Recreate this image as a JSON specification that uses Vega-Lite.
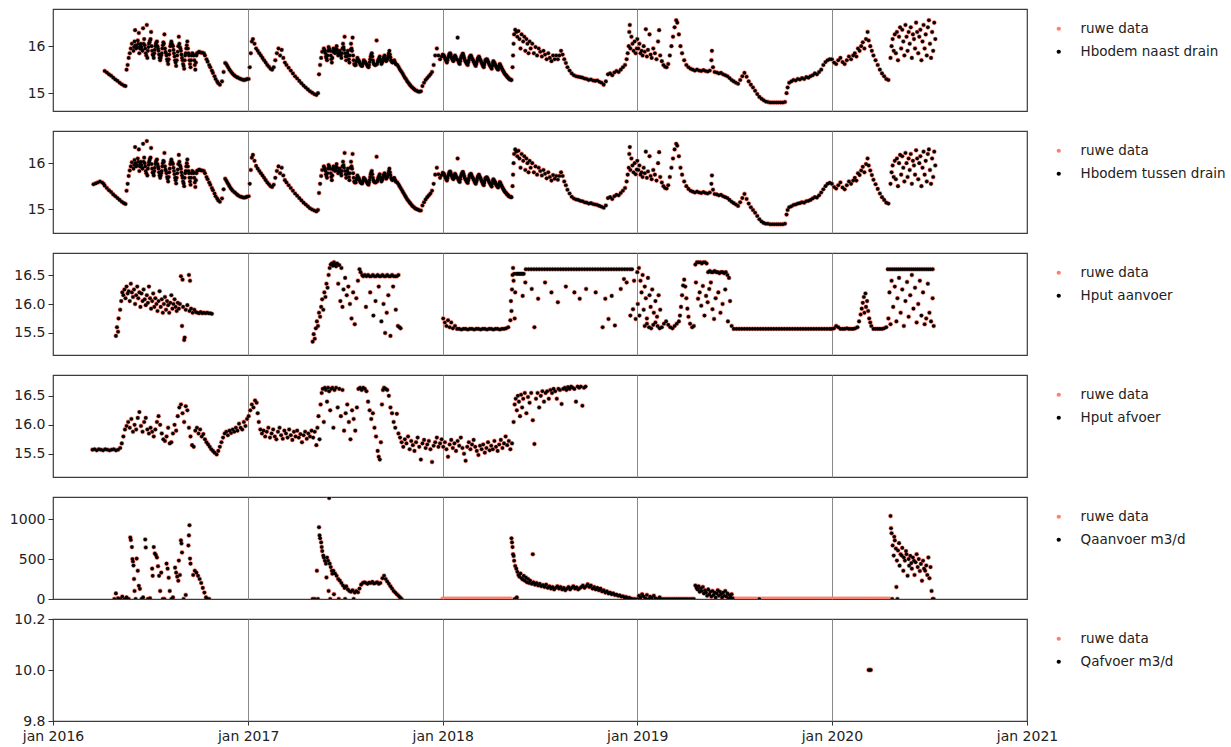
{
  "$schema": "https://vega.github.io/schema/vega-lite/v6.json",
  "background": "white",
  "padding": {"left": 8, "top": 8, "right": 0, "bottom": 5},
  "spacing": 20,
  "bounds": "flush",
  "config": {
    "font": "DejaVu Sans",
    "view": {"stroke": "#3c3c3c", "strokeWidth": 1.2},
    "axis": {"labelFont": "DejaVu Sans", "labelFontSize": 14, "labelColor": "#222222", "tickColor": "#333333", "tickSize": 5, "tickWidth": 1, "labelPadding": 3, "domain": false, "grid": false, "title": null},
    "axisX": {"gridColor": "#888888", "gridWidth": 1, "gridOpacity": 1, "labelFlush": false, "labelOverlap": false},
    "legend": {"orient": "right", "offset": 12, "padding": 13, "labelFont": "DejaVu Sans", "labelFontSize": 13.5, "labelColor": "#222222", "labelOffset": 15, "labelLimit": 200, "rowPadding": 8, "symbolType": "circle", "symbolSize": 18, "symbolStrokeWidth": 0}
  },
  "datasets": {
    "bodem": [
      {"d":"2016-03-17","b":15.54},{"d":"2016-03-21","b":15.56},{"d":"2016-03-25","b":15.58},{"d":"2016-03-29","b":15.60},{"d":"2016-04-02","b":15.58},{"d":"2016-04-05","b":15.55},
      {"d":"2016-04-07","a":15.47,"b":15.51},{"d":"2016-04-11","a":15.44,"b":15.46},{"d":"2016-04-15","a":15.40,"b":15.41},{"d":"2016-04-19","a":15.37,"b":15.37},{"d":"2016-04-23","a":15.33,"b":15.32},{"d":"2016-04-27","a":15.29,"b":15.28},{"d":"2016-05-01","a":15.26,"b":15.24},{"d":"2016-05-05","a":15.22,"b":15.20},{"d":"2016-05-09","a":15.19,"b":15.16},{"d":"2016-05-13","a":15.16,"b":15.13},{"d":"2016-05-16","a":15.15,"b":15.11},
      {"d":"2016-05-18","a":15.50,"b":15.40},{"d":"2016-05-20","a":15.60,"b":15.55},{"d":"2016-05-22","a":15.75,"b":15.72},{"d":"2016-05-24","a":15.85,"b":15.84},{"d":"2016-05-26","a":15.95,"b":15.93},{"d":"2016-05-28","a":16.05,"b":16.02},{"d":"2016-05-31","a":15.90,"b":15.88},{"d":"2016-06-02","a":16.10,"b":16.07},{"d":"2016-06-03","a":16.34,"b":16.35},{"d":"2016-06-05","a":15.95,"b":15.93},{"d":"2016-06-08","a":16.12,"b":16.10},{"d":"2016-06-10","a":16.28,"b":16.30},{"d":"2016-06-11","a":15.85,"b":15.83},{"d":"2016-06-14","a":16.05,"b":16.03},{"d":"2016-06-17","a":15.90,"b":15.88},{"d":"2016-06-18","a":16.38,"b":16.42},{"d":"2016-06-20","a":16.15,"b":16.12},{"d":"2016-06-23","a":15.85,"b":15.83},{"d":"2016-06-25","a":16.45,"b":16.48},{"d":"2016-06-26","a":15.75,"b":15.73},{"d":"2016-06-29","a":16.05,"b":16.02},
      {"d":"2016-07-02","a":16.15,"b":16.12},{"d":"2016-07-03","a":16.30,"b":16.33},{"d":"2016-07-05","a":15.90,"b":15.88},{"d":"2016-07-08","a":15.75,"b":15.73},{"d":"2016-07-11","a":16.00,"b":15.98},{"d":"2016-07-14","a":16.10,"b":16.08},{"d":"2016-07-17","a":15.90,"b":15.88},{"d":"2016-07-20","a":15.70,"b":15.68},{"d":"2016-07-23","a":15.85,"b":15.83},{"d":"2016-07-26","a":16.08,"b":16.05},{"d":"2016-07-28","a":16.25,"b":16.22},{"d":"2016-07-29","a":15.95,"b":15.93},{"d":"2016-08-01","a":15.80,"b":15.78},{"d":"2016-08-04","a":15.62,"b":15.60},{"d":"2016-08-07","a":15.90,"b":15.88},{"d":"2016-08-10","a":16.10,"b":16.08},{"d":"2016-08-13","a":16.00,"b":15.98},{"d":"2016-08-16","a":15.78,"b":15.76},{"d":"2016-08-19","a":15.58,"b":15.56},{"d":"2016-08-22","a":15.88,"b":15.86},{"d":"2016-08-24","a":16.20,"b":16.18},{"d":"2016-08-25","a":16.05,"b":16.03},{"d":"2016-08-28","a":15.90,"b":15.88},{"d":"2016-08-31","a":15.70,"b":15.68},{"d":"2016-09-03","a":15.52,"b":15.50},{"d":"2016-09-06","a":15.85,"b":15.83},{"d":"2016-09-09","a":16.10,"b":16.08},{"d":"2016-09-12","a":15.80,"b":15.78},{"d":"2016-09-15","a":15.55,"b":15.53},{"d":"2016-09-18","a":15.85,"b":15.83},{"d":"2016-09-21","a":15.80,"b":15.78},{"d":"2016-09-24","a":15.50,"b":15.48},{"d":"2016-09-27","a":15.85,"b":15.83},{"d":"2016-10-01","a":15.88,"b":15.86},{"d":"2016-10-05","a":15.86,"b":15.84},{"d":"2016-10-10","a":15.85,"b":15.83},{"d":"2016-10-15","a":15.72,"b":15.70},{"d":"2016-10-20","a":15.60,"b":15.58},{"d":"2016-10-25","a":15.48,"b":15.46},{"d":"2016-10-30","a":15.36,"b":15.34},{"d":"2016-11-04","a":15.25,"b":15.23},{"d":"2016-11-09","a":15.18,"b":15.16},{"d":"2016-11-13","a":15.25,"b":15.23},{"d":"2016-11-16","a":15.45,"b":15.43},{"d":"2016-11-19","a":15.64,"b":15.66},{"d":"2016-11-23","a":15.58,"b":15.58},{"d":"2016-11-27","a":15.50,"b":15.50},{"d":"2016-12-01","a":15.44,"b":15.43},{"d":"2016-12-06","a":15.38,"b":15.37},{"d":"2016-12-11","a":15.34,"b":15.32},{"d":"2016-12-16","a":15.31,"b":15.28},{"d":"2016-12-21","a":15.29,"b":15.26},{"d":"2016-12-26","a":15.28,"b":15.25},{"d":"2016-12-30","a":15.30,"b":15.27},
      {"d":"2016-06-01","a":15.98,"b":15.96},{"d":"2016-06-04","a":16.02,"b":16.00},{"d":"2016-06-07","a":15.98,"b":15.96},{"d":"2016-06-09","a":16.05,"b":16.03},{"d":"2016-06-12","a":15.95,"b":15.93},{"d":"2016-06-13","a":16.00,"b":15.98},{"d":"2016-06-15","a":15.98,"b":15.96},{"d":"2016-06-16","a":15.92,"b":15.90},{"d":"2016-06-19","a":16.05,"b":16.03},{"d":"2016-06-21","a":16.02,"b":16.00},{"d":"2016-06-22","a":15.95,"b":15.93},{"d":"2016-06-24","a":15.80,"b":15.78},{"d":"2016-06-27","a":15.90,"b":15.88},{"d":"2016-06-28","a":15.98,"b":15.96},{"d":"2016-06-30","a":16.08,"b":16.06},{"d":"2016-07-01","a":16.12,"b":16.10},{"d":"2016-07-04","a":16.00,"b":15.98},{"d":"2016-07-06","a":15.82,"b":15.80},{"d":"2016-07-07","a":15.80,"b":15.78},{"d":"2016-07-09","a":15.85,"b":15.83},{"d":"2016-07-10","a":15.92,"b":15.90},{"d":"2016-07-12","a":16.05,"b":16.03},{"d":"2016-07-13","a":16.08,"b":16.06},{"d":"2016-07-15","a":16.00,"b":15.98},{"d":"2016-07-16","a":15.95,"b":15.93},{"d":"2016-07-18","a":15.82,"b":15.80},{"d":"2016-07-19","a":15.75,"b":15.73},{"d":"2016-07-21","a":15.75,"b":15.73},{"d":"2016-07-22","a":15.80,"b":15.78},{"d":"2016-07-24","a":15.95,"b":15.93},{"d":"2016-07-25","a":16.02,"b":16.00},{"d":"2016-07-27","a":16.05,"b":16.03},{"d":"2016-07-30","a":15.88,"b":15.86},{"d":"2016-07-31","a":15.85,"b":15.83},{"d":"2016-08-02","a":15.72,"b":15.70},{"d":"2016-08-03","a":15.68,"b":15.66},{"d":"2016-08-05","a":15.72,"b":15.70},{"d":"2016-08-06","a":15.82,"b":15.80},{"d":"2016-08-08","a":16.00,"b":15.98},{"d":"2016-08-09","a":16.05,"b":16.03},{"d":"2016-08-11","a":16.05,"b":16.03},{"d":"2016-08-12","a":16.02,"b":16.00},{"d":"2016-08-14","a":15.92,"b":15.90},{"d":"2016-08-15","a":15.85,"b":15.83},{"d":"2016-08-17","a":15.70,"b":15.68},{"d":"2016-08-18","a":15.65,"b":15.63},{"d":"2016-08-20","a":15.70,"b":15.68},{"d":"2016-08-21","a":15.80,"b":15.78},{"d":"2016-08-23","a":16.00,"b":15.98},{"d":"2016-08-26","a":15.98,"b":15.96},{"d":"2016-08-27","a":15.95,"b":15.93},{"d":"2016-08-29","a":15.82,"b":15.80},{"d":"2016-08-30","a":15.75,"b":15.73},{"d":"2016-09-01","a":15.62,"b":15.60},{"d":"2016-09-02","a":15.58,"b":15.56},{"d":"2016-09-04","a":15.70,"b":15.68},{"d":"2016-09-05","a":15.80,"b":15.78},{"d":"2016-09-07","a":15.95,"b":15.93},{"d":"2016-09-08","a":16.02,"b":16.00},{"d":"2016-09-10","a":15.95,"b":15.93},{"d":"2016-09-11","a":15.85,"b":15.83},{"d":"2016-09-13","a":15.70,"b":15.68},{"d":"2016-09-14","a":15.62,"b":15.60},{"d":"2016-09-16","a":15.70,"b":15.68},{"d":"2016-09-17","a":15.80,"b":15.78},{"d":"2016-09-19","a":15.84,"b":15.82},{"d":"2016-09-20","a":15.82,"b":15.80},{"d":"2016-09-22","a":15.70,"b":15.68},{"d":"2016-09-23","a":15.60,"b":15.58},{"d":"2016-09-25","a":15.65,"b":15.63},{"d":"2016-09-26","a":15.80,"b":15.78},{"d":"2016-09-29","a":15.86,"b":15.84},{"d":"2016-10-03","a":15.87,"b":15.85},{"d":"2016-10-07","a":15.86,"b":15.84},{"d":"2016-10-12","a":15.80,"b":15.78},{"d":"2016-10-17","a":15.67,"b":15.65},{"d":"2016-10-22","a":15.55,"b":15.53},{"d":"2016-10-27","a":15.43,"b":15.41},{"d":"2016-11-01","a":15.30,"b":15.28},{"d":"2016-11-06","a":15.21,"b":15.19},{"d":"2016-11-21","a":15.62,"b":15.62},{"d":"2016-11-25","a":15.54,"b":15.54},{"d":"2016-11-29","a":15.47,"b":15.46},{"d":"2016-12-03","a":15.41,"b":15.40},{"d":"2016-12-08","a":15.36,"b":15.35},{"d":"2016-12-13","a":15.33,"b":15.30},{"d":"2016-12-18","a":15.30,"b":15.27},{"d":"2016-12-23","a":15.28,"b":15.25},{"d":"2016-12-28","a":15.29,"b":15.26},
      {"d":"2017-01-02","a":15.30,"b":15.28},{"d":"2017-01-04","a":15.55,"b":15.55},{"d":"2017-01-06","a":15.85,"b":15.85},{"d":"2017-01-08","a":16.10,"b":16.12},{"d":"2017-01-10","a":16.15,"b":16.18},{"d":"2017-01-13","a":16.05,"b":16.05},{"d":"2017-01-16","a":15.95,"b":15.94},{"d":"2017-01-19","a":15.90,"b":15.88},{"d":"2017-01-22","a":15.85,"b":15.83},{"d":"2017-01-25","a":15.80,"b":15.78},{"d":"2017-01-28","a":15.75,"b":15.73},{"d":"2017-01-31","a":15.70,"b":15.68},{"d":"2017-02-03","a":15.65,"b":15.63},{"d":"2017-02-06","a":15.60,"b":15.58},{"d":"2017-02-09","a":15.56,"b":15.54},{"d":"2017-02-12","a":15.52,"b":15.50},{"d":"2017-02-15","a":15.50,"b":15.48},{"d":"2017-02-18","a":15.55,"b":15.53},{"d":"2017-02-21","a":15.70,"b":15.68},{"d":"2017-02-24","a":15.85,"b":15.83},{"d":"2017-02-27","a":15.95,"b":15.93},{"d":"2017-03-02","a":15.80,"b":15.78},{"d":"2017-03-05","a":15.92,"b":15.90},{"d":"2017-03-08","a":15.75,"b":15.73},{"d":"2017-03-11","a":15.65,"b":15.63},{"d":"2017-03-14","a":15.60,"b":15.58},{"d":"2017-03-18","a":15.54,"b":15.52},{"d":"2017-03-22","a":15.48,"b":15.46},{"d":"2017-03-26","a":15.42,"b":15.40},{"d":"2017-03-30","a":15.36,"b":15.34},{"d":"2017-04-03","a":15.31,"b":15.29},{"d":"2017-04-07","a":15.26,"b":15.24},{"d":"2017-04-11","a":15.21,"b":15.19},{"d":"2017-04-15","a":15.16,"b":15.14},{"d":"2017-04-19","a":15.12,"b":15.10},{"d":"2017-04-23","a":15.08,"b":15.06},{"d":"2017-04-27","a":15.04,"b":15.02},{"d":"2017-05-01","a":15.01,"b":14.99},{"d":"2017-05-05","a":14.98,"b":14.97},{"d":"2017-05-09","a":14.96,"b":14.95},{"d":"2017-05-12","a":15.00,"b":14.98},
      {"d":"2017-05-14","a":15.40,"b":15.35},{"d":"2017-05-16","a":15.60,"b":15.55},{"d":"2017-05-18","a":15.75,"b":15.72},{"d":"2017-05-20","a":15.88,"b":15.85},{"d":"2017-05-23","a":15.95,"b":15.93},{"d":"2017-05-26","a":15.85,"b":15.83},{"d":"2017-05-29","a":15.70,"b":15.68},{"d":"2017-06-01","a":15.98,"b":15.96},{"d":"2017-06-04","a":15.90,"b":15.88},{"d":"2017-06-07","a":15.65,"b":15.63},{"d":"2017-06-10","a":15.95,"b":15.93},{"d":"2017-06-13","a":15.85,"b":15.83},{"d":"2017-06-16","a":16.00,"b":15.98},{"d":"2017-06-19","a":15.80,"b":15.78},{"d":"2017-06-22","a":15.90,"b":15.88},{"d":"2017-06-25","a":15.75,"b":15.73},{"d":"2017-06-28","a":16.05,"b":16.03},{"d":"2017-07-01","a":16.20,"b":16.22},{"d":"2017-07-02","a":15.85,"b":15.83},{"d":"2017-07-04","a":15.70,"b":15.68},{"d":"2017-07-07","a":15.90,"b":15.88},{"d":"2017-07-10","a":15.65,"b":15.63},{"d":"2017-07-13","a":16.05,"b":16.03},{"d":"2017-07-16","a":16.18,"b":16.20},{"d":"2017-07-17","a":15.80,"b":15.78},{"d":"2017-07-19","a":15.62,"b":15.60},{"d":"2017-07-22","a":15.60,"b":15.58},{"d":"2017-07-25","a":15.75,"b":15.73},{"d":"2017-07-28","a":15.68,"b":15.66},{"d":"2017-07-31","a":15.60,"b":15.58},{"d":"2017-08-03","a":15.58,"b":15.56},{"d":"2017-08-06","a":15.70,"b":15.68},{"d":"2017-08-09","a":15.65,"b":15.63},{"d":"2017-08-12","a":15.60,"b":15.58},{"d":"2017-08-15","a":15.55,"b":15.53},{"d":"2017-08-18","a":15.72,"b":15.70},{"d":"2017-08-21","a":15.85,"b":15.83},{"d":"2017-08-24","a":15.65,"b":15.63},{"d":"2017-08-27","a":15.60,"b":15.58},{"d":"2017-08-30","a":16.12,"b":16.14},{"d":"2017-08-31","a":15.62,"b":15.60},{"d":"2017-09-02","a":15.70,"b":15.68},{"d":"2017-09-05","a":15.78,"b":15.76},{"d":"2017-09-08","a":15.62,"b":15.60},{"d":"2017-09-11","a":15.70,"b":15.68},{"d":"2017-09-14","a":15.80,"b":15.78},{"d":"2017-09-17","a":15.68,"b":15.66},{"d":"2017-09-20","a":15.75,"b":15.73},{"d":"2017-09-23","a":15.90,"b":15.88},{"d":"2017-09-26","a":15.70,"b":15.68},{"d":"2017-09-29","a":15.65,"b":15.63},{"d":"2017-10-02","a":15.70,"b":15.68},{"d":"2017-10-05","a":15.62,"b":15.60},{"d":"2017-10-08","a":15.60,"b":15.58},{"d":"2017-10-12","a":15.52,"b":15.50},{"d":"2017-10-16","a":15.45,"b":15.42},{"d":"2017-10-20","a":15.37,"b":15.34},{"d":"2017-10-24","a":15.30,"b":15.26},{"d":"2017-10-28","a":15.23,"b":15.19},{"d":"2017-11-01","a":15.17,"b":15.13},{"d":"2017-11-05","a":15.12,"b":15.07},{"d":"2017-11-09","a":15.08,"b":15.03},{"d":"2017-11-13","a":15.05,"b":15.00},{"d":"2017-11-17","a":15.03,"b":14.98},{"d":"2017-11-21","a":15.04,"b":14.97},{"d":"2017-11-24","a":15.15,"b":15.08},{"d":"2017-11-27","a":15.22,"b":15.15},{"d":"2017-11-30","a":15.28,"b":15.21},{"d":"2017-12-03","a":15.32,"b":15.26},{"d":"2017-12-06","a":15.36,"b":15.30},{"d":"2017-12-09","a":15.40,"b":15.34},{"d":"2017-12-12","a":15.45,"b":15.40},{"d":"2017-12-15","a":15.60,"b":15.55},{"d":"2017-12-18","a":15.80,"b":15.75},{"d":"2017-12-21","a":15.95,"b":15.90},{"d":"2017-12-24","a":15.80,"b":15.76},{"d":"2017-12-27","a":15.72,"b":15.68},{"d":"2017-12-30","a":15.78,"b":15.74},
      {"d":"2017-05-24","a":15.92,"b":15.90},{"d":"2017-05-25","a":15.90,"b":15.88},{"d":"2017-05-27","a":15.78,"b":15.76},{"d":"2017-05-28","a":15.74,"b":15.72},{"d":"2017-05-30","a":15.80,"b":15.78},{"d":"2017-05-31","a":15.90,"b":15.88},{"d":"2017-06-02","a":15.95,"b":15.93},{"d":"2017-06-03","a":15.92,"b":15.90},{"d":"2017-06-05","a":15.80,"b":15.78},{"d":"2017-06-06","a":15.72,"b":15.70},{"d":"2017-06-08","a":15.75,"b":15.73},{"d":"2017-06-09","a":15.88,"b":15.86},{"d":"2017-06-11","a":15.92,"b":15.90},{"d":"2017-06-12","a":15.88,"b":15.86},{"d":"2017-06-14","a":15.90,"b":15.88},{"d":"2017-06-15","a":15.95,"b":15.93},{"d":"2017-06-17","a":15.92,"b":15.90},{"d":"2017-06-18","a":15.85,"b":15.83},{"d":"2017-06-20","a":15.84,"b":15.82},{"d":"2017-06-21","a":15.87,"b":15.85},{"d":"2017-06-23","a":15.85,"b":15.83},{"d":"2017-06-24","a":15.80,"b":15.78},{"d":"2017-06-26","a":15.85,"b":15.83},{"d":"2017-06-27","a":15.95,"b":15.93},{"d":"2017-06-29","a":15.98,"b":15.96},{"d":"2017-06-30","a":15.92,"b":15.90},{"d":"2017-07-03","a":15.78,"b":15.76},{"d":"2017-07-05","a":15.78,"b":15.76},{"d":"2017-07-06","a":15.85,"b":15.83},{"d":"2017-07-08","a":15.80,"b":15.78},{"d":"2017-07-09","a":15.72,"b":15.70},{"d":"2017-07-11","a":15.80,"b":15.78},{"d":"2017-07-12","a":15.92,"b":15.90},{"d":"2017-07-14","a":15.95,"b":15.93},{"d":"2017-07-15","a":15.90,"b":15.88},{"d":"2017-07-18","a":15.70,"b":15.68},{"d":"2017-07-20","a":15.60,"b":15.58},{"d":"2017-07-21","a":15.60,"b":15.58},{"d":"2017-07-23","a":15.66,"b":15.64},{"d":"2017-07-24","a":15.70,"b":15.68},{"d":"2017-07-26","a":15.72,"b":15.70},{"d":"2017-07-27","a":15.70,"b":15.68},{"d":"2017-07-29","a":15.65,"b":15.63},{"d":"2017-07-30","a":15.62,"b":15.60},{"d":"2017-08-01","a":15.60,"b":15.58},{"d":"2017-08-02","a":15.58,"b":15.56},{"d":"2017-08-04","a":15.62,"b":15.60},{"d":"2017-08-05","a":15.66,"b":15.64},{"d":"2017-08-07","a":15.68,"b":15.66},{"d":"2017-08-08","a":15.67,"b":15.65},{"d":"2017-08-10","a":15.63,"b":15.61},{"d":"2017-08-11","a":15.62,"b":15.60},{"d":"2017-08-13","a":15.58,"b":15.56},{"d":"2017-08-14","a":15.56,"b":15.54},{"d":"2017-08-16","a":15.60,"b":15.58},{"d":"2017-08-17","a":15.66,"b":15.64},{"d":"2017-08-19","a":15.78,"b":15.76},{"d":"2017-08-20","a":15.82,"b":15.80},{"d":"2017-08-22","a":15.78,"b":15.76},{"d":"2017-08-23","a":15.70,"b":15.68},{"d":"2017-08-25","a":15.62,"b":15.60},{"d":"2017-08-26","a":15.61,"b":15.59},{"d":"2017-08-28","a":15.60,"b":15.58},{"d":"2017-08-29","a":15.61,"b":15.59},{"d":"2017-09-01","a":15.66,"b":15.64},{"d":"2017-09-03","a":15.72,"b":15.70},{"d":"2017-09-04","a":15.75,"b":15.73},{"d":"2017-09-06","a":15.72,"b":15.70},{"d":"2017-09-07","a":15.66,"b":15.64},{"d":"2017-09-09","a":15.64,"b":15.62},{"d":"2017-09-10","a":15.67,"b":15.65},{"d":"2017-09-12","a":15.74,"b":15.72},{"d":"2017-09-13","a":15.78,"b":15.76},{"d":"2017-09-15","a":15.76,"b":15.74},{"d":"2017-09-16","a":15.72,"b":15.70},{"d":"2017-09-18","a":15.70,"b":15.68},{"d":"2017-09-19","a":15.72,"b":15.70},{"d":"2017-09-21","a":15.80,"b":15.78},{"d":"2017-09-22","a":15.85,"b":15.83},{"d":"2017-09-24","a":15.82,"b":15.80},{"d":"2017-09-25","a":15.76,"b":15.74},{"d":"2017-09-27","a":15.68,"b":15.66},{"d":"2017-09-28","a":15.66,"b":15.64},{"d":"2017-09-30","a":15.67,"b":15.65},{"d":"2017-10-01","a":15.69,"b":15.67},{"d":"2017-10-03","a":15.67,"b":15.65},{"d":"2017-10-04","a":15.64,"b":15.62},{"d":"2017-10-06","a":15.61,"b":15.59},{"d":"2017-10-10","a":15.56,"b":15.54},{"d":"2017-10-14","a":15.48,"b":15.46},{"d":"2017-10-18","a":15.41,"b":15.38},{"d":"2017-10-22","a":15.33,"b":15.30},{"d":"2017-10-26","a":15.26,"b":15.22},{"d":"2017-10-30","a":15.20,"b":15.16},{"d":"2017-11-03","a":15.14,"b":15.10},{"d":"2017-11-07","a":15.10,"b":15.05},{"d":"2017-11-11","a":15.06,"b":15.01},{"d":"2017-11-15","a":15.04,"b":14.99},{"d":"2017-11-19","a":15.03,"b":14.97},
      {"d":"2018-01-03","a":15.80,"b":15.77},{"d":"2018-01-06","a":15.72,"b":15.69},{"d":"2018-01-09","a":15.65,"b":15.62},{"d":"2018-01-12","a":15.78,"b":15.75},{"d":"2018-01-15","a":15.85,"b":15.82},{"d":"2018-01-18","a":15.75,"b":15.72},{"d":"2018-01-21","a":15.68,"b":15.65},{"d":"2018-01-24","a":15.80,"b":15.77},{"d":"2018-01-27","a":15.72,"b":15.69},{"d":"2018-01-29","a":16.18,"b":16.10},{"d":"2018-01-30","a":15.70,"b":15.67},{"d":"2018-02-02","a":15.62,"b":15.59},{"d":"2018-02-05","a":15.78,"b":15.75},{"d":"2018-02-08","a":15.84,"b":15.81},{"d":"2018-02-11","a":15.72,"b":15.69},{"d":"2018-02-14","a":15.65,"b":15.62},{"d":"2018-02-17","a":15.60,"b":15.57},{"d":"2018-02-20","a":15.75,"b":15.72},{"d":"2018-02-23","a":15.80,"b":15.77},{"d":"2018-02-26","a":15.72,"b":15.69},{"d":"2018-03-01","a":15.65,"b":15.62},{"d":"2018-03-04","a":15.58,"b":15.55},{"d":"2018-03-07","a":15.70,"b":15.67},{"d":"2018-03-10","a":15.78,"b":15.75},{"d":"2018-03-13","a":15.70,"b":15.67},{"d":"2018-03-16","a":15.62,"b":15.59},{"d":"2018-03-19","a":15.55,"b":15.52},{"d":"2018-03-22","a":15.70,"b":15.67},{"d":"2018-03-25","a":15.72,"b":15.69},{"d":"2018-03-28","a":15.65,"b":15.62},{"d":"2018-03-31","a":15.58,"b":15.55},{"d":"2018-04-03","a":15.52,"b":15.49},{"d":"2018-04-06","a":15.68,"b":15.65},{"d":"2018-04-09","a":15.62,"b":15.59},{"d":"2018-04-12","a":15.55,"b":15.52},{"d":"2018-04-15","a":15.50,"b":15.47},{"d":"2018-04-18","a":15.62,"b":15.59},{"d":"2018-04-21","a":15.55,"b":15.52},{"d":"2018-04-24","a":15.48,"b":15.45},{"d":"2018-04-27","a":15.42,"b":15.39},{"d":"2018-04-30","a":15.38,"b":15.35},{"d":"2018-05-03","a":15.34,"b":15.31},{"d":"2018-05-06","a":15.30,"b":15.28},{"d":"2018-05-09","a":15.28,"b":15.26},
      {"d":"2018-01-01","a":15.82,"b":15.79},{"d":"2018-01-02","a":15.81,"b":15.78},{"d":"2018-01-04","a":15.78,"b":15.75},{"d":"2018-01-05","a":15.75,"b":15.72},{"d":"2018-01-07","a":15.70,"b":15.67},{"d":"2018-01-08","a":15.67,"b":15.64},{"d":"2018-01-10","a":15.70,"b":15.67},{"d":"2018-01-11","a":15.75,"b":15.72},{"d":"2018-01-13","a":15.82,"b":15.79},{"d":"2018-01-14","a":15.84,"b":15.81},{"d":"2018-01-16","a":15.82,"b":15.79},{"d":"2018-01-17","a":15.78,"b":15.75},{"d":"2018-01-19","a":15.72,"b":15.69},{"d":"2018-01-20","a":15.70,"b":15.67},{"d":"2018-01-22","a":15.72,"b":15.69},{"d":"2018-01-23","a":15.76,"b":15.73},{"d":"2018-01-25","a":15.78,"b":15.75},{"d":"2018-01-26","a":15.75,"b":15.72},{"d":"2018-01-28","a":15.71,"b":15.68},{"d":"2018-01-31","a":15.66,"b":15.63},{"d":"2018-02-01","a":15.63,"b":15.60},{"d":"2018-02-03","a":15.68,"b":15.65},{"d":"2018-02-04","a":15.74,"b":15.71},{"d":"2018-02-06","a":15.80,"b":15.77},{"d":"2018-02-07","a":15.83,"b":15.80},{"d":"2018-02-09","a":15.80,"b":15.77},{"d":"2018-02-10","a":15.76,"b":15.73},{"d":"2018-02-12","a":15.69,"b":15.66},{"d":"2018-02-13","a":15.67,"b":15.64},{"d":"2018-02-15","a":15.63,"b":15.60},{"d":"2018-02-16","a":15.61,"b":15.58},{"d":"2018-02-18","a":15.65,"b":15.62},{"d":"2018-02-19","a":15.70,"b":15.67},{"d":"2018-02-21","a":15.78,"b":15.75},{"d":"2018-02-22","a":15.79,"b":15.76},{"d":"2018-02-24","a":15.77,"b":15.74},{"d":"2018-02-25","a":15.74,"b":15.71},{"d":"2018-02-27","a":15.70,"b":15.67},{"d":"2018-02-28","a":15.67,"b":15.64},{"d":"2018-03-02","a":15.62,"b":15.59},{"d":"2018-03-03","a":15.60,"b":15.57},{"d":"2018-03-05","a":15.62,"b":15.59},{"d":"2018-03-06","a":15.66,"b":15.63},{"d":"2018-03-08","a":15.74,"b":15.71},{"d":"2018-03-09","a":15.76,"b":15.73},{"d":"2018-03-11","a":15.75,"b":15.72},{"d":"2018-03-12","a":15.72,"b":15.69},{"d":"2018-03-14","a":15.67,"b":15.64},{"d":"2018-03-15","a":15.64,"b":15.61},{"d":"2018-03-17","a":15.60,"b":15.57},{"d":"2018-03-18","a":15.57,"b":15.54},{"d":"2018-03-20","a":15.60,"b":15.57},{"d":"2018-03-21","a":15.65,"b":15.62},{"d":"2018-03-23","a":15.71,"b":15.68},{"d":"2018-03-24","a":15.72,"b":15.69},{"d":"2018-03-26","a":15.70,"b":15.67},{"d":"2018-03-27","a":15.67,"b":15.64},{"d":"2018-03-29","a":15.62,"b":15.59},{"d":"2018-03-30","a":15.60,"b":15.57},{"d":"2018-04-01","a":15.56,"b":15.53},{"d":"2018-04-02","a":15.54,"b":15.51},{"d":"2018-04-04","a":15.58,"b":15.55},{"d":"2018-04-05","a":15.64,"b":15.61},{"d":"2018-04-07","a":15.66,"b":15.63},{"d":"2018-04-08","a":15.64,"b":15.61},{"d":"2018-04-10","a":15.60,"b":15.57},{"d":"2018-04-11","a":15.57,"b":15.54},{"d":"2018-04-13","a":15.53,"b":15.50},{"d":"2018-04-14","a":15.51,"b":15.48},{"d":"2018-04-16","a":15.55,"b":15.52},{"d":"2018-04-17","a":15.59,"b":15.56},{"d":"2018-04-19","a":15.60,"b":15.57},{"d":"2018-04-20","a":15.57,"b":15.54},{"d":"2018-04-22","a":15.52,"b":15.49},{"d":"2018-04-23","a":15.50,"b":15.47},{"d":"2018-04-25","a":15.46,"b":15.43},{"d":"2018-04-26","a":15.44,"b":15.41},{"d":"2018-04-28","a":15.40,"b":15.37},{"d":"2018-04-29","a":15.39,"b":15.36},{"d":"2018-05-01","a":15.36,"b":15.33},{"d":"2018-05-02","a":15.35,"b":15.32},{"d":"2018-05-04","a":15.32,"b":15.29},{"d":"2018-05-05","a":15.31,"b":15.28},{"d":"2018-05-07","a":15.29,"b":15.27},{"d":"2018-05-08","a":15.29,"b":15.27},{"d":"2018-05-10","a":15.28,"b":15.26},
      {"d":"2018-05-12","a":15.55,"b":15.50},{"d":"2018-05-13","a":15.80,"b":15.75},{"d":"2018-05-14","a":16.05,"b":16.00},{"d":"2018-05-15","a":16.25,"b":16.20},{"d":"2018-05-17","a":16.35,"b":16.30},{"d":"2018-05-19","a":16.30,"b":16.25},{"d":"2018-05-21","a":16.20,"b":16.15},{"d":"2018-05-23","a":16.32,"b":16.27},{"d":"2018-05-25","a":16.15,"b":16.10},{"d":"2018-05-27","a":15.95,"b":15.90},{"d":"2018-05-29","a":16.25,"b":16.20},{"d":"2018-06-01","a":16.10,"b":16.05},{"d":"2018-06-03","a":16.20,"b":16.15},{"d":"2018-06-05","a":15.90,"b":15.85},{"d":"2018-06-07","a":16.15,"b":16.10},{"d":"2018-06-09","a":16.05,"b":16.00},{"d":"2018-06-11","a":15.85,"b":15.80},{"d":"2018-06-13","a":16.10,"b":16.05},{"d":"2018-06-15","a":15.95,"b":15.90},{"d":"2018-06-18","a":16.05,"b":16.00},{"d":"2018-06-21","a":15.85,"b":15.80},{"d":"2018-06-24","a":15.98,"b":15.93},{"d":"2018-06-27","a":15.80,"b":15.75},{"d":"2018-06-30","a":15.95,"b":15.90},{"d":"2018-07-03","a":15.88,"b":15.83},{"d":"2018-07-06","a":15.78,"b":15.73},{"d":"2018-07-09","a":15.90,"b":15.85},{"d":"2018-07-12","a":15.82,"b":15.77},{"d":"2018-07-15","a":15.72,"b":15.67},{"d":"2018-07-18","a":15.85,"b":15.80},{"d":"2018-07-21","a":15.75,"b":15.70},{"d":"2018-07-24","a":15.68,"b":15.62},{"d":"2018-07-27","a":15.80,"b":15.74},{"d":"2018-07-30","a":15.72,"b":15.66},{"d":"2018-08-02","a":15.80,"b":15.72},{"d":"2018-08-05","a":15.72,"b":15.64},{"d":"2018-08-08","a":15.80,"b":15.72},{"d":"2018-08-11","a":15.90,"b":15.80},{"d":"2018-08-14","a":15.82,"b":15.72},{"d":"2018-08-17","a":15.72,"b":15.60},{"d":"2018-08-20","a":15.64,"b":15.52},{"d":"2018-08-23","a":15.55,"b":15.42},{"d":"2018-08-27","a":15.48,"b":15.34},{"d":"2018-08-31","a":15.42,"b":15.27},{"d":"2018-09-04","a":15.38,"b":15.23},{"d":"2018-09-08","a":15.36,"b":15.21},{"d":"2018-09-12","a":15.35,"b":15.20},{"d":"2018-09-16","a":15.34,"b":15.18},{"d":"2018-09-20","a":15.33,"b":15.17},{"d":"2018-09-24","a":15.31,"b":15.15},{"d":"2018-09-28","a":15.30,"b":15.14},{"d":"2018-10-02","a":15.28,"b":15.12},{"d":"2018-10-06","a":15.29,"b":15.13},{"d":"2018-10-10","a":15.27,"b":15.11},{"d":"2018-10-14","a":15.26,"b":15.10},{"d":"2018-10-18","a":15.27,"b":15.09},{"d":"2018-10-22","a":15.24,"b":15.07},{"d":"2018-10-26","a":15.22,"b":15.05},{"d":"2018-10-30","a":15.18,"b":15.03},{"d":"2018-11-03","a":15.25,"b":15.08},{"d":"2018-11-07","a":15.40,"b":15.24},{"d":"2018-11-11","a":15.42,"b":15.26},{"d":"2018-11-15","a":15.38,"b":15.22},{"d":"2018-11-19","a":15.44,"b":15.28},{"d":"2018-11-23","a":15.47,"b":15.31},{"d":"2018-11-27","a":15.45,"b":15.30},{"d":"2018-12-01","a":15.50,"b":15.35},{"d":"2018-12-05","a":15.55,"b":15.40},{"d":"2018-12-09","a":15.60,"b":15.46},{"d":"2018-12-12","a":15.72,"b":15.60},{"d":"2018-12-14","a":15.85,"b":15.75},{"d":"2018-12-16","a":16.00,"b":15.90},{"d":"2018-12-17","a":16.30,"b":16.20},{"d":"2018-12-18","a":16.45,"b":16.35},{"d":"2018-12-19","a":15.95,"b":15.85},{"d":"2018-12-21","a":16.20,"b":16.10},{"d":"2018-12-23","a":16.05,"b":15.95},{"d":"2018-12-25","a":15.90,"b":15.80},{"d":"2018-12-27","a":16.10,"b":16.00},{"d":"2018-12-29","a":15.85,"b":15.76},{"d":"2018-12-31","a":15.95,"b":15.86},
      {"d":"2019-01-01","a":16.15,"b":16.05},{"d":"2019-01-03","a":15.95,"b":15.85},{"d":"2019-01-05","a":16.05,"b":15.95},{"d":"2019-01-07","a":15.85,"b":15.75},{"d":"2019-01-09","a":15.90,"b":15.80},{"d":"2019-01-11","a":15.80,"b":15.70},{"d":"2019-01-13","a":16.00,"b":15.90},{"d":"2019-01-15","a":15.88,"b":15.78},{"d":"2019-01-17","a":16.36,"b":16.25},{"d":"2019-01-19","a":15.78,"b":15.68},{"d":"2019-01-21","a":15.92,"b":15.82},{"d":"2019-01-24","a":16.25,"b":16.15},{"d":"2019-01-26","a":15.82,"b":15.72},{"d":"2019-01-28","a":15.75,"b":15.65},{"d":"2019-01-31","a":15.95,"b":15.85},{"d":"2019-02-03","a":15.85,"b":15.75},{"d":"2019-02-06","a":15.72,"b":15.62},{"d":"2019-02-09","a":16.10,"b":16.00},{"d":"2019-02-11","a":16.34,"b":16.24},{"d":"2019-02-13","a":15.80,"b":15.70},{"d":"2019-02-16","a":15.68,"b":15.58},{"d":"2019-02-19","a":15.60,"b":15.50},{"d":"2019-02-22","a":15.56,"b":15.46},{"d":"2019-02-25","a":15.55,"b":15.45},{"d":"2019-02-28","a":15.62,"b":15.52},{"d":"2019-03-03","a":15.80,"b":15.70},{"d":"2019-03-06","a":16.00,"b":15.90},{"d":"2019-03-09","a":16.20,"b":16.10},{"d":"2019-03-12","a":16.40,"b":16.30},{"d":"2019-03-15","a":16.55,"b":16.42},{"d":"2019-03-17","a":16.50,"b":16.38},{"d":"2019-03-20","a":16.25,"b":16.15},{"d":"2019-03-23","a":16.00,"b":15.90},{"d":"2019-03-26","a":15.85,"b":15.75},{"d":"2019-03-30","a":15.70,"b":15.60},{"d":"2019-04-03","a":15.60,"b":15.50},{"d":"2019-04-07","a":15.55,"b":15.44},{"d":"2019-04-11","a":15.52,"b":15.40},{"d":"2019-04-15","a":15.50,"b":15.38},{"d":"2019-04-19","a":15.48,"b":15.36},{"d":"2019-04-23","a":15.50,"b":15.38},{"d":"2019-04-27","a":15.48,"b":15.36},{"d":"2019-05-01","a":15.47,"b":15.35},{"d":"2019-05-05","a":15.49,"b":15.37},{"d":"2019-05-09","a":15.47,"b":15.35},{"d":"2019-05-13","a":15.46,"b":15.34},{"d":"2019-05-17","a":15.48,"b":15.36},{"d":"2019-05-20","a":15.70,"b":15.55},{"d":"2019-05-21","a":15.90,"b":15.73},{"d":"2019-05-23","a":15.55,"b":15.42},{"d":"2019-05-26","a":15.45,"b":15.33},{"d":"2019-05-30","a":15.44,"b":15.32},{"d":"2019-06-03","a":15.42,"b":15.30},{"d":"2019-06-07","a":15.43,"b":15.31},{"d":"2019-06-11","a":15.40,"b":15.28},{"d":"2019-06-15","a":15.38,"b":15.26},{"d":"2019-06-19","a":15.36,"b":15.24},{"d":"2019-06-23","a":15.32,"b":15.20},{"d":"2019-06-27","a":15.28,"b":15.16},{"d":"2019-07-01","a":15.25,"b":15.13},{"d":"2019-07-05","a":15.22,"b":15.10},{"d":"2019-07-09","a":15.20,"b":15.07},{"d":"2019-07-13","a":15.28,"b":15.15},{"d":"2019-07-17","a":15.36,"b":15.24},{"d":"2019-07-21","a":15.43,"b":15.33},{"d":"2019-07-25","a":15.35,"b":15.22},{"d":"2019-07-29","a":15.25,"b":15.12},{"d":"2019-08-02","a":15.18,"b":15.04},{"d":"2019-08-06","a":15.12,"b":14.98},{"d":"2019-08-10","a":15.05,"b":14.92},{"d":"2019-08-14","a":14.98,"b":14.85},{"d":"2019-08-18","a":14.92,"b":14.78},{"d":"2019-08-22","a":14.88,"b":14.73},{"d":"2019-08-26","a":14.85,"b":14.70},{"d":"2019-08-30","a":14.82,"b":14.68},{"d":"2019-09-03","a":14.81,"b":14.68},{"d":"2019-09-07","a":14.80,"b":14.67},{"d":"2019-09-11","a":14.80,"b":14.67},{"d":"2019-09-15","a":14.80,"b":14.67},{"d":"2019-09-19","a":14.80,"b":14.67},{"d":"2019-09-23","a":14.80,"b":14.67},{"d":"2019-09-27","a":14.80,"b":14.67},{"d":"2019-10-01","a":14.80,"b":14.67},{"d":"2019-10-05","a":14.81,"b":14.68},{"d":"2019-10-08","a":15.00,"b":14.88},{"d":"2019-10-10","a":15.12,"b":14.98},{"d":"2019-10-13","a":15.22,"b":15.04},{"d":"2019-10-17","a":15.25,"b":15.06},{"d":"2019-10-21","a":15.28,"b":15.09},{"d":"2019-10-25","a":15.27,"b":15.10},{"d":"2019-10-29","a":15.30,"b":15.12},{"d":"2019-11-02","a":15.29,"b":15.13},{"d":"2019-11-06","a":15.32,"b":15.15},{"d":"2019-11-10","a":15.30,"b":15.14},{"d":"2019-11-14","a":15.34,"b":15.17},{"d":"2019-11-18","a":15.33,"b":15.18},{"d":"2019-11-22","a":15.36,"b":15.20},{"d":"2019-11-26","a":15.38,"b":15.23},{"d":"2019-11-30","a":15.42,"b":15.26},{"d":"2019-12-04","a":15.40,"b":15.25},{"d":"2019-12-08","a":15.45,"b":15.30},{"d":"2019-12-12","a":15.50,"b":15.36},{"d":"2019-12-16","a":15.60,"b":15.43},{"d":"2019-12-20","a":15.66,"b":15.50},{"d":"2019-12-24","a":15.70,"b":15.55},{"d":"2019-12-28","a":15.72,"b":15.57},
      {"d":"2020-01-01","a":15.72,"b":15.55},{"d":"2020-01-05","a":15.65,"b":15.48},{"d":"2020-01-09","a":15.62,"b":15.45},{"d":"2020-01-13","a":15.70,"b":15.52},{"d":"2020-01-17","a":15.75,"b":15.58},{"d":"2020-01-21","a":15.66,"b":15.47},{"d":"2020-01-25","a":15.62,"b":15.43},{"d":"2020-01-29","a":15.70,"b":15.52},{"d":"2020-02-02","a":15.78,"b":15.60},{"d":"2020-02-06","a":15.72,"b":15.55},{"d":"2020-02-10","a":15.80,"b":15.62},{"d":"2020-02-13","a":15.85,"b":15.68},{"d":"2020-02-16","a":15.78,"b":15.62},{"d":"2020-02-19","a":15.95,"b":15.78},{"d":"2020-02-22","a":15.90,"b":15.74},{"d":"2020-02-25","a":16.00,"b":15.84},{"d":"2020-02-28","a":16.08,"b":15.92},{"d":"2020-03-02","a":15.95,"b":15.80},{"d":"2020-03-05","a":16.15,"b":15.98},{"d":"2020-03-08","a":16.30,"b":16.10},{"d":"2020-03-10","a":16.12,"b":15.95},{"d":"2020-03-13","a":16.00,"b":15.84},{"d":"2020-03-16","a":15.90,"b":15.74},{"d":"2020-03-19","a":15.80,"b":15.64},{"d":"2020-03-23","a":15.70,"b":15.54},{"d":"2020-03-27","a":15.60,"b":15.44},{"d":"2020-03-31","a":15.50,"b":15.34},{"d":"2020-04-04","a":15.42,"b":15.26},{"d":"2020-04-08","a":15.36,"b":15.20},{"d":"2020-04-12","a":15.30,"b":15.14},{"d":"2020-04-16","a":15.28,"b":15.12},
      {"d":"2020-04-20","a":15.75,"b":15.55},{"d":"2020-04-22","a":16.00,"b":15.80},{"d":"2020-04-24","a":16.15,"b":15.95},{"d":"2020-04-26","a":15.90,"b":15.70},{"d":"2020-04-28","a":16.25,"b":16.05},{"d":"2020-04-30","a":15.85,"b":15.65},{"d":"2020-05-02","a":16.30,"b":16.10},{"d":"2020-05-04","a":15.70,"b":15.50},{"d":"2020-05-06","a":16.20,"b":16.00},{"d":"2020-05-08","a":16.40,"b":16.18},{"d":"2020-05-10","a":15.95,"b":15.75},{"d":"2020-05-12","a":16.35,"b":16.15},{"d":"2020-05-14","a":16.10,"b":15.90},{"d":"2020-05-16","a":15.80,"b":15.60},{"d":"2020-05-18","a":16.45,"b":16.22},{"d":"2020-05-20","a":16.20,"b":16.00},{"d":"2020-05-22","a":15.90,"b":15.70},{"d":"2020-05-24","a":16.30,"b":16.10},{"d":"2020-05-26","a":16.05,"b":15.85},{"d":"2020-05-28","a":16.40,"b":16.20},{"d":"2020-05-30","a":15.75,"b":15.55},{"d":"2020-06-01","a":16.25,"b":16.05},{"d":"2020-06-03","a":16.15,"b":15.95},{"d":"2020-06-05","a":15.95,"b":15.75},{"d":"2020-06-07","a":16.50,"b":16.28},{"d":"2020-06-09","a":16.30,"b":16.10},{"d":"2020-06-11","a":15.85,"b":15.65},{"d":"2020-06-13","a":16.20,"b":16.00},{"d":"2020-06-15","a":16.35,"b":16.15},{"d":"2020-06-17","a":15.70,"b":15.50},{"d":"2020-06-19","a":16.10,"b":15.90},{"d":"2020-06-21","a":16.45,"b":16.25},{"d":"2020-06-23","a":15.95,"b":15.75},{"d":"2020-06-25","a":16.25,"b":16.05},{"d":"2020-06-27","a":15.80,"b":15.60},{"d":"2020-06-29","a":16.40,"b":16.20},{"d":"2020-07-01","a":16.55,"b":16.30},{"d":"2020-07-03","a":16.05,"b":15.85},{"d":"2020-07-05","a":15.75,"b":15.55},{"d":"2020-07-07","a":16.30,"b":16.10},{"d":"2020-07-09","a":15.90,"b":15.70},{"d":"2020-07-11","a":16.50,"b":16.25},{"d":"2020-07-13","a":16.15,"b":15.95}
    ],
    "aanvoer": [
      {"d":"2016-04-28","v":15.45},{"d":"2016-04-30","v":15.60},{"d":"2016-05-02","v":15.52},{"d":"2016-05-03","v":15.75},{"d":"2016-05-06","v":15.90},{"d":"2016-05-08","v":16.05},{"d":"2016-05-10","v":16.20},{"d":"2016-05-12","v":16.15},{"d":"2016-05-14","v":16.25},{"d":"2016-05-16","v":16.10},{"d":"2016-05-18","v":16.30},{"d":"2016-05-20","v":16.18},{"d":"2016-05-22","v":16.22},{"d":"2016-05-24","v":16.05},{"d":"2016-05-26","v":16.35},{"d":"2016-05-28","v":16.20},{"d":"2016-05-30","v":16.12},{"d":"2016-06-01","v":16.25},{"d":"2016-06-03","v":16.00},{"d":"2016-06-05","v":16.15},{"d":"2016-06-07","v":16.30},{"d":"2016-06-09","v":16.10},{"d":"2016-06-11","v":16.20},{"d":"2016-06-13","v":15.95},{"d":"2016-06-15","v":16.18},{"d":"2016-06-17","v":16.05},{"d":"2016-06-19","v":16.25},{"d":"2016-06-21","v":16.08},{"d":"2016-06-23","v":15.98},{"d":"2016-06-25","v":16.15},{"d":"2016-06-27","v":16.02},{"d":"2016-06-29","v":16.30},{"d":"2016-07-01","v":16.10},{"d":"2016-07-03","v":15.92},{"d":"2016-07-05","v":16.05},{"d":"2016-07-07","v":16.18},{"d":"2016-07-09","v":15.95},{"d":"2016-07-11","v":16.10},{"d":"2016-07-13","v":16.00},{"d":"2016-07-15","v":15.88},{"d":"2016-07-17","v":16.05},{"d":"2016-07-19","v":16.22},{"d":"2016-07-21","v":15.95},{"d":"2016-07-23","v":16.08},{"d":"2016-07-25","v":15.85},{"d":"2016-07-27","v":16.00},{"d":"2016-07-29","v":16.12},{"d":"2016-07-31","v":15.90},{"d":"2016-08-02","v":16.05},{"d":"2016-08-04","v":15.98},{"d":"2016-08-06","v":15.85},{"d":"2016-08-08","v":16.02},{"d":"2016-08-10","v":16.15},{"d":"2016-08-12","v":15.92},{"d":"2016-08-14","v":16.00},{"d":"2016-08-16","v":16.08},{"d":"2016-08-18","v":15.95},{"d":"2016-08-20","v":15.88},{"d":"2016-08-22","v":16.02},{"d":"2016-08-24","v":15.92},{"d":"2016-08-26","v":16.00},{"d":"2016-08-28","v":16.48},{"d":"2016-08-30","v":15.62},{"d":"2016-08-31","v":16.42},{"d":"2016-09-01","v":15.95},{"d":"2016-09-03","v":15.38},{"d":"2016-09-04","v":15.42},{"d":"2016-09-06","v":15.90},{"d":"2016-09-09","v":15.98},{"d":"2016-09-12","v":16.50},{"d":"2016-09-13","v":15.88},{"d":"2016-09-14","v":16.40},{"d":"2016-09-16","v":15.92},{"d":"2016-09-19","v":15.85},{"d":"2016-09-22","v":15.90},{"d":"2016-09-25","v":15.86},{"d":"2016-09-28","v":15.85},{"d":"2016-10-01","v":15.84},{"d":"2016-10-04","v":15.86},{"d":"2016-10-07","v":15.84},{"d":"2016-10-10","v":15.85},{"d":"2016-10-13","v":15.84},{"d":"2016-10-16","v":15.85},{"d":"2016-10-19","v":15.84},{"d":"2016-10-22","v":15.84},{"d":"2016-10-25","v":15.83},
      {"d":"2017-05-02","v":15.35},{"d":"2017-05-04","v":15.48},{"d":"2017-05-06","v":15.40},{"d":"2017-05-08","v":15.58},{"d":"2017-05-10","v":15.70},{"d":"2017-05-12","v":15.62},{"d":"2017-05-14","v":15.85},{"d":"2017-05-16","v":15.78},{"d":"2017-05-18","v":15.95},{"d":"2017-05-20","v":16.08},{"d":"2017-05-22","v":15.90},{"d":"2017-05-24","v":16.20},{"d":"2017-05-26","v":16.12},{"d":"2017-05-28","v":16.35},{"d":"2017-05-30","v":16.28},{"d":"2017-06-01","v":16.50},{"d":"2017-06-03","v":16.62},{"d":"2017-06-05","v":16.68},{"d":"2017-06-07","v":16.70},{"d":"2017-06-09","v":16.66},{"d":"2017-06-11","v":16.72},{"d":"2017-06-13","v":16.68},{"d":"2017-06-15","v":16.65},{"d":"2017-06-17","v":16.70},{"d":"2017-06-19","v":16.35},{"d":"2017-06-21","v":16.67},{"d":"2017-06-23","v":16.05},{"d":"2017-06-25","v":16.62},{"d":"2017-06-27","v":15.95},{"d":"2017-06-29","v":16.25},{"d":"2017-07-02","v":16.45},{"d":"2017-07-05","v":16.15},{"d":"2017-07-08","v":16.30},{"d":"2017-07-11","v":16.00},{"d":"2017-07-14","v":15.75},{"d":"2017-07-17","v":16.20},{"d":"2017-07-20","v":15.65},{"d":"2017-07-23","v":16.10},{"d":"2017-07-26","v":16.40},{"d":"2017-07-29","v":16.60},{"d":"2017-07-31","v":16.55},{"d":"2017-08-03","v":16.50},{"d":"2017-08-05","v":16.48},{"d":"2017-08-08","v":16.50},{"d":"2017-08-11","v":16.48},{"d":"2017-08-14","v":16.50},{"d":"2017-08-17","v":16.48},{"d":"2017-08-20","v":16.48},{"d":"2017-08-23","v":16.50},{"d":"2017-08-26","v":16.48},{"d":"2017-08-29","v":16.48},{"d":"2017-09-01","v":16.50},{"d":"2017-09-04","v":16.48},{"d":"2017-09-07","v":16.48},{"d":"2017-09-10","v":16.50},{"d":"2017-09-13","v":16.48},{"d":"2017-09-16","v":16.48},{"d":"2017-09-19","v":16.50},{"d":"2017-09-22","v":16.48},{"d":"2017-09-25","v":16.48},{"d":"2017-09-28","v":16.50},{"d":"2017-10-01","v":16.48},{"d":"2017-10-04","v":16.48},{"d":"2017-10-07","v":16.48},{"d":"2017-10-10","v":16.50},{"d":"2017-08-10","v":15.95},{"d":"2017-08-18","v":16.20},{"d":"2017-08-24","v":15.80},{"d":"2017-08-28","v":16.05},{"d":"2017-09-03","v":16.30},{"d":"2017-09-08","v":15.70},{"d":"2017-09-12","v":16.00},{"d":"2017-09-15","v":15.50},{"d":"2017-09-18","v":15.85},{"d":"2017-09-21","v":16.15},{"d":"2017-09-25","v":15.45},{"d":"2017-09-30","v":16.30},{"d":"2017-10-05","v":15.90},{"d":"2017-10-09","v":15.62},{"d":"2017-10-12","v":15.60},{"d":"2017-10-14","v":15.58},
      {"d":"2018-01-02","v":15.75},{"d":"2018-01-05","v":15.68},{"d":"2018-01-08","v":15.62},{"d":"2018-01-11","v":15.72},{"d":"2018-01-14","v":15.60},{"d":"2018-01-17","v":15.68},{"d":"2018-01-20","v":15.58},{"d":"2018-01-24","v":15.62},{"d":"2018-01-28","v":15.57},{"d":"2018-02-01","v":15.57},{"d":"2018-02-05","v":15.56},{"d":"2018-02-09","v":15.57},{"d":"2018-02-13","v":15.57},{"d":"2018-02-17","v":15.56},{"d":"2018-02-21","v":15.57},{"d":"2018-02-25","v":15.57},{"d":"2018-03-01","v":15.56},{"d":"2018-03-05","v":15.57},{"d":"2018-03-09","v":15.57},{"d":"2018-03-13","v":15.56},{"d":"2018-03-17","v":15.57},{"d":"2018-03-21","v":15.57},{"d":"2018-03-25","v":15.56},{"d":"2018-03-29","v":15.57},{"d":"2018-04-02","v":15.57},{"d":"2018-04-06","v":15.56},{"d":"2018-04-10","v":15.57},{"d":"2018-04-14","v":15.57},{"d":"2018-04-18","v":15.56},{"d":"2018-04-22","v":15.57},{"d":"2018-04-26","v":15.57},{"d":"2018-04-30","v":15.58},{"d":"2018-05-04","v":15.60},{"d":"2018-05-08","v":15.72},{"d":"2018-05-09","v":16.05},{"d":"2018-05-10","v":15.88},{"d":"2018-05-11","v":16.25},{"d":"2018-05-12","v":16.50},{"d":"2018-05-13","v":16.62},{"d":"2018-05-14","v":16.40},{"d":"2018-05-15","v":16.52},{"d":"2018-05-16","v":15.75},{"d":"2018-05-17","v":16.20},{"d":"2018-05-19","v":16.52},{"d":"2018-05-21","v":16.52},{"d":"2018-05-23","v":16.52},{"d":"2018-05-25","v":16.52},{"d":"2018-05-27","v":16.52},{"d":"2018-05-29","v":16.52},{"d":"2018-05-31","v":16.52},{"d":"2018-05-31","v":16.14},{"d":"2018-06-02","v":16.52},{"d":"2018-06-05","v":16.37},{"d":"2018-06-06","v":16.60},{"d":"2018-06-11","v":16.60},{"d":"2018-06-16","v":16.60},{"d":"2018-06-21","v":16.60},{"d":"2018-06-26","v":16.60},{"d":"2018-07-01","v":16.60},{"d":"2018-07-06","v":16.60},{"d":"2018-07-11","v":16.60},{"d":"2018-07-16","v":16.60},{"d":"2018-07-21","v":16.60},{"d":"2018-07-26","v":16.60},{"d":"2018-07-31","v":16.60},{"d":"2018-08-05","v":16.60},{"d":"2018-08-10","v":16.60},{"d":"2018-08-15","v":16.60},{"d":"2018-08-20","v":16.60},{"d":"2018-08-25","v":16.60},{"d":"2018-08-30","v":16.60},{"d":"2018-09-04","v":16.60},{"d":"2018-09-09","v":16.60},{"d":"2018-09-14","v":16.60},{"d":"2018-09-19","v":16.60},{"d":"2018-09-24","v":16.60},{"d":"2018-09-29","v":16.60},{"d":"2018-10-04","v":16.60},{"d":"2018-10-09","v":16.60},{"d":"2018-10-14","v":16.60},{"d":"2018-10-19","v":16.60},{"d":"2018-10-24","v":16.60},{"d":"2018-10-29","v":16.60},{"d":"2018-11-03","v":16.60},{"d":"2018-11-08","v":16.60},{"d":"2018-11-13","v":16.60},{"d":"2018-11-18","v":16.60},{"d":"2018-11-23","v":16.60},{"d":"2018-11-28","v":16.60},{"d":"2018-12-03","v":16.60},{"d":"2018-12-08","v":16.60},{"d":"2018-12-13","v":16.60},{"d":"2018-12-18","v":16.60},{"d":"2018-12-22","v":16.60},{"d":"2018-06-17","v":16.26},{"d":"2018-06-22","v":15.60},{"d":"2018-06-29","v":16.09},{"d":"2018-07-12","v":16.37},{"d":"2018-07-24","v":16.20},{"d":"2018-08-05","v":16.03},{"d":"2018-08-20","v":16.30},{"d":"2018-09-05","v":16.20},{"d":"2018-09-15","v":16.09},{"d":"2018-09-27","v":16.26},{"d":"2018-10-15","v":16.20},{"d":"2018-10-28","v":15.60},{"d":"2018-11-02","v":16.09},{"d":"2018-11-08","v":15.74},{"d":"2018-11-14","v":16.14},{"d":"2018-11-20","v":15.63},{"d":"2018-12-01","v":16.26},{"d":"2018-12-07","v":16.43},{"d":"2018-12-12","v":16.37},{"d":"2018-12-19","v":15.80},{"d":"2018-12-24","v":15.91},{"d":"2018-12-26","v":16.40},{"d":"2018-12-29","v":15.74},
      {"d":"2019-01-01","v":16.55},{"d":"2019-01-02","v":16.00},{"d":"2019-01-04","v":16.62},{"d":"2019-01-05","v":15.80},{"d":"2019-01-07","v":16.40},{"d":"2019-01-09","v":16.20},{"d":"2019-01-11","v":16.50},{"d":"2019-01-13","v":15.90},{"d":"2019-01-15","v":16.30},{"d":"2019-01-17","v":16.10},{"d":"2019-01-19","v":15.75},{"d":"2019-01-21","v":16.45},{"d":"2019-01-24","v":16.15},{"d":"2019-01-26","v":15.95},{"d":"2019-01-29","v":16.25},{"d":"2019-02-01","v":15.85},{"d":"2019-02-04","v":16.05},{"d":"2019-02-07","v":15.78},{"d":"2019-02-10","v":16.15},{"d":"2019-02-13","v":15.90},{"d":"2019-01-15","v":15.62},{"d":"2019-01-19","v":15.66},{"d":"2019-01-23","v":15.60},{"d":"2019-01-27","v":15.58},{"d":"2019-01-31","v":15.64},{"d":"2019-02-04","v":15.68},{"d":"2019-02-08","v":15.62},{"d":"2019-02-12","v":15.58},{"d":"2019-02-16","v":15.60},{"d":"2019-02-20","v":15.66},{"d":"2019-02-24","v":15.70},{"d":"2019-02-28","v":15.64},{"d":"2019-03-04","v":15.60},{"d":"2019-03-08","v":15.58},{"d":"2019-03-12","v":15.62},{"d":"2019-03-16","v":15.66},{"d":"2019-03-20","v":15.70},{"d":"2019-03-22","v":15.80},{"d":"2019-03-24","v":15.95},{"d":"2019-03-26","v":16.15},{"d":"2019-03-28","v":16.32},{"d":"2019-03-30","v":16.42},{"d":"2019-04-01","v":16.30},{"d":"2019-04-03","v":16.10},{"d":"2019-04-05","v":15.92},{"d":"2019-04-07","v":15.78},{"d":"2019-04-10","v":15.66},{"d":"2019-04-14","v":15.60},{"d":"2019-04-17","v":15.62},{"d":"2019-04-20","v":16.68},{"d":"2019-04-23","v":16.72},{"d":"2019-04-26","v":16.72},{"d":"2019-04-29","v":16.72},{"d":"2019-05-02","v":16.70},{"d":"2019-05-05","v":16.72},{"d":"2019-05-08","v":16.72},{"d":"2019-05-11","v":16.70},{"d":"2019-05-14","v":16.55},{"d":"2019-05-17","v":16.57},{"d":"2019-05-20","v":16.55},{"d":"2019-05-23","v":16.55},{"d":"2019-05-26","v":16.57},{"d":"2019-05-29","v":16.55},{"d":"2019-06-01","v":16.55},{"d":"2019-06-04","v":16.53},{"d":"2019-06-07","v":16.55},{"d":"2019-06-10","v":16.55},{"d":"2019-06-13","v":16.53},{"d":"2019-06-16","v":16.55},{"d":"2019-06-19","v":16.50},{"d":"2019-06-22","v":16.45},{"d":"2019-04-21","v":16.37},{"d":"2019-04-25","v":16.09},{"d":"2019-04-28","v":16.20},{"d":"2019-05-01","v":15.97},{"d":"2019-05-04","v":16.31},{"d":"2019-05-07","v":15.80},{"d":"2019-05-10","v":16.14},{"d":"2019-05-13","v":16.03},{"d":"2019-05-16","v":16.26},{"d":"2019-05-19","v":16.37},{"d":"2019-05-22","v":15.91},{"d":"2019-05-25","v":15.74},{"d":"2019-05-28","v":16.10},{"d":"2019-06-02","v":16.20},{"d":"2019-06-06","v":15.85},{"d":"2019-06-10","v":16.00},{"d":"2019-06-15","v":16.25},{"d":"2019-06-20","v":15.70},{"d":"2019-06-24","v":16.05},{"d":"2019-06-27","v":15.62},
      {"d":"2019-07-01","v":15.57},{"d":"2019-07-06","v":15.57},{"d":"2019-07-11","v":15.57},{"d":"2019-07-16","v":15.57},{"d":"2019-07-21","v":15.57},{"d":"2019-07-26","v":15.57},{"d":"2019-07-31","v":15.57},{"d":"2019-08-05","v":15.57},{"d":"2019-08-10","v":15.57},{"d":"2019-08-15","v":15.57},{"d":"2019-08-20","v":15.57},{"d":"2019-08-25","v":15.57},{"d":"2019-08-30","v":15.57},{"d":"2019-09-04","v":15.57},{"d":"2019-09-09","v":15.57},{"d":"2019-09-14","v":15.57},{"d":"2019-09-19","v":15.57},{"d":"2019-09-24","v":15.57},{"d":"2019-09-29","v":15.57},{"d":"2019-10-04","v":15.57},{"d":"2019-10-09","v":15.57},{"d":"2019-10-14","v":15.57},{"d":"2019-10-19","v":15.57},{"d":"2019-10-24","v":15.57},{"d":"2019-10-29","v":15.57},{"d":"2019-11-03","v":15.57},{"d":"2019-11-08","v":15.57},{"d":"2019-11-13","v":15.57},{"d":"2019-11-18","v":15.57},{"d":"2019-11-23","v":15.57},{"d":"2019-11-28","v":15.57},{"d":"2019-12-03","v":15.57},{"d":"2019-12-08","v":15.57},{"d":"2019-12-13","v":15.57},{"d":"2019-12-18","v":15.57},{"d":"2019-12-23","v":15.57},{"d":"2019-12-28","v":15.57},
      {"d":"2020-01-01","v":15.57},{"d":"2020-01-05","v":15.58},{"d":"2020-01-09","v":15.62},{"d":"2020-01-13","v":15.60},{"d":"2020-01-17","v":15.57},{"d":"2020-01-21","v":15.57},{"d":"2020-01-25","v":15.57},{"d":"2020-01-29","v":15.58},{"d":"2020-02-02","v":15.57},{"d":"2020-02-06","v":15.57},{"d":"2020-02-10","v":15.57},{"d":"2020-02-14","v":15.58},{"d":"2020-02-18","v":15.60},{"d":"2020-02-21","v":15.70},{"d":"2020-02-24","v":15.82},{"d":"2020-02-26","v":15.92},{"d":"2020-02-28","v":16.02},{"d":"2020-03-01","v":16.12},{"d":"2020-03-02","v":15.85},{"d":"2020-03-04","v":16.18},{"d":"2020-03-05","v":15.95},{"d":"2020-03-07","v":16.05},{"d":"2020-03-09","v":15.88},{"d":"2020-03-11","v":15.75},{"d":"2020-03-13","v":15.68},{"d":"2020-03-15","v":15.62},{"d":"2020-03-19","v":15.57},{"d":"2020-03-23","v":15.57},{"d":"2020-03-27","v":15.57},{"d":"2020-03-31","v":15.57},{"d":"2020-04-04","v":15.57},{"d":"2020-04-08","v":15.58},{"d":"2020-04-12","v":15.60},{"d":"2020-04-15","v":16.60},{"d":"2020-04-19","v":16.60},{"d":"2020-04-23","v":16.60},{"d":"2020-04-27","v":16.60},{"d":"2020-05-01","v":16.60},{"d":"2020-05-05","v":16.60},{"d":"2020-05-09","v":16.60},{"d":"2020-05-13","v":16.60},{"d":"2020-05-17","v":16.60},{"d":"2020-05-21","v":16.60},{"d":"2020-05-25","v":16.60},{"d":"2020-05-29","v":16.60},{"d":"2020-06-02","v":16.60},{"d":"2020-06-06","v":16.60},{"d":"2020-06-10","v":16.60},{"d":"2020-06-14","v":16.60},{"d":"2020-06-18","v":16.60},{"d":"2020-06-22","v":16.60},{"d":"2020-06-26","v":16.60},{"d":"2020-06-30","v":16.60},{"d":"2020-07-04","v":16.60},{"d":"2020-07-08","v":16.60},{"d":"2020-04-16","v":15.75},{"d":"2020-04-18","v":16.20},{"d":"2020-04-20","v":15.65},{"d":"2020-04-22","v":16.40},{"d":"2020-04-25","v":15.95},{"d":"2020-04-28","v":16.30},{"d":"2020-05-01","v":15.70},{"d":"2020-05-03","v":16.10},{"d":"2020-05-06","v":16.45},{"d":"2020-05-09","v":15.85},{"d":"2020-05-12","v":16.25},{"d":"2020-05-15","v":15.62},{"d":"2020-05-18","v":16.05},{"d":"2020-05-21","v":16.38},{"d":"2020-05-24","v":15.78},{"d":"2020-05-27","v":16.15},{"d":"2020-05-30","v":16.50},{"d":"2020-06-02","v":15.92},{"d":"2020-06-05","v":16.28},{"d":"2020-06-08","v":15.68},{"d":"2020-06-11","v":16.00},{"d":"2020-06-14","v":16.40},{"d":"2020-06-17","v":15.80},{"d":"2020-06-20","v":16.20},{"d":"2020-06-23","v":15.65},{"d":"2020-06-26","v":15.75},{"d":"2020-06-29","v":16.35},{"d":"2020-07-02","v":15.85},{"d":"2020-07-05","v":15.70},{"d":"2020-07-08","v":16.10},{"d":"2020-07-10","v":15.62}
    ],
    "afvoer": [
      {"d":"2016-03-15","v":15.57},{"d":"2016-03-19","v":15.58},{"d":"2016-03-23","v":15.56},{"d":"2016-03-27","v":15.58},{"d":"2016-03-31","v":15.57},{"d":"2016-04-04","v":15.56},{"d":"2016-04-08","v":15.58},{"d":"2016-04-12","v":15.57},{"d":"2016-04-16","v":15.56},{"d":"2016-04-20","v":15.57},{"d":"2016-04-24","v":15.58},{"d":"2016-04-28","v":15.56},{"d":"2016-05-02","v":15.57},{"d":"2016-05-06","v":15.60},{"d":"2016-05-09","v":15.68},{"d":"2016-05-12","v":15.80},{"d":"2016-05-15","v":15.92},{"d":"2016-05-18","v":15.98},{"d":"2016-05-21","v":16.05},{"d":"2016-05-24","v":15.95},{"d":"2016-05-27","v":16.10},{"d":"2016-05-30","v":15.88},{"d":"2016-06-02","v":16.00},{"d":"2016-06-05","v":15.92},{"d":"2016-06-08","v":16.12},{"d":"2016-06-11","v":16.22},{"d":"2016-06-14","v":15.98},{"d":"2016-06-17","v":15.88},{"d":"2016-06-20","v":16.05},{"d":"2016-06-23","v":16.12},{"d":"2016-06-26","v":15.92},{"d":"2016-06-29","v":15.85},{"d":"2016-07-02","v":15.95},{"d":"2016-07-05","v":15.88},{"d":"2016-07-08","v":15.80},{"d":"2016-07-11","v":15.92},{"d":"2016-07-14","v":16.05},{"d":"2016-07-17","v":16.15},{"d":"2016-07-20","v":16.00},{"d":"2016-07-23","v":15.85},{"d":"2016-07-26","v":15.75},{"d":"2016-07-29","v":15.72},{"d":"2016-08-01","v":15.80},{"d":"2016-08-04","v":15.95},{"d":"2016-08-07","v":15.68},{"d":"2016-08-10","v":15.70},{"d":"2016-08-13","v":15.85},{"d":"2016-08-16","v":16.00},{"d":"2016-08-19","v":15.90},{"d":"2016-08-22","v":16.15},{"d":"2016-08-25","v":16.30},{"d":"2016-08-28","v":16.35},{"d":"2016-08-31","v":16.20},{"d":"2016-09-03","v":16.05},{"d":"2016-09-06","v":16.32},{"d":"2016-09-09","v":16.25},{"d":"2016-09-12","v":15.95},{"d":"2016-09-15","v":15.80},{"d":"2016-09-18","v":15.65},{"d":"2016-09-21","v":15.62},{"d":"2016-09-24","v":15.90},{"d":"2016-09-27","v":15.95},{"d":"2016-09-30","v":15.85},{"d":"2016-10-03","v":15.92},{"d":"2016-10-06","v":15.80},{"d":"2016-10-09","v":15.84},{"d":"2016-10-12","v":15.75},{"d":"2016-10-15","v":15.70},{"d":"2016-10-18","v":15.66},{"d":"2016-10-21","v":15.62},{"d":"2016-10-24","v":15.58},{"d":"2016-10-27","v":15.55},{"d":"2016-10-30","v":15.52},{"d":"2016-11-03","v":15.49},{"d":"2016-11-06","v":15.55},{"d":"2016-11-09","v":15.62},{"d":"2016-11-12","v":15.70},{"d":"2016-11-15","v":15.78},{"d":"2016-11-18","v":15.85},{"d":"2016-11-21","v":15.88},{"d":"2016-11-24","v":15.82},{"d":"2016-11-27","v":15.90},{"d":"2016-11-30","v":15.86},{"d":"2016-12-03","v":15.92},{"d":"2016-12-06","v":15.88},{"d":"2016-12-09","v":15.95},{"d":"2016-12-12","v":15.90},{"d":"2016-12-15","v":16.02},{"d":"2016-12-18","v":15.95},{"d":"2016-12-21","v":15.92},{"d":"2016-12-24","v":16.05},{"d":"2016-12-27","v":15.98},{"d":"2016-12-30","v":16.10},
      {"d":"2017-01-02","v":16.15},{"d":"2017-01-05","v":16.25},{"d":"2017-01-08","v":16.35},{"d":"2017-01-11","v":16.30},{"d":"2017-01-14","v":16.42},{"d":"2017-01-17","v":16.38},{"d":"2017-01-19","v":16.20},{"d":"2017-01-21","v":16.05},{"d":"2017-01-24","v":15.92},{"d":"2017-01-27","v":15.85},{"d":"2017-01-30","v":15.90},{"d":"2017-02-02","v":15.80},{"d":"2017-02-05","v":15.88},{"d":"2017-02-08","v":15.95},{"d":"2017-02-11","v":15.78},{"d":"2017-02-14","v":15.85},{"d":"2017-02-17","v":15.92},{"d":"2017-02-20","v":15.80},{"d":"2017-02-23","v":15.75},{"d":"2017-02-26","v":15.88},{"d":"2017-03-01","v":15.95},{"d":"2017-03-04","v":15.82},{"d":"2017-03-07","v":15.76},{"d":"2017-03-10","v":15.90},{"d":"2017-03-13","v":15.85},{"d":"2017-03-16","v":15.78},{"d":"2017-03-19","v":15.92},{"d":"2017-03-22","v":15.82},{"d":"2017-03-25","v":15.74},{"d":"2017-03-28","v":15.88},{"d":"2017-03-31","v":15.80},{"d":"2017-04-03","v":15.90},{"d":"2017-04-06","v":15.78},{"d":"2017-04-09","v":15.84},{"d":"2017-04-12","v":15.70},{"d":"2017-04-15","v":15.82},{"d":"2017-04-18","v":15.88},{"d":"2017-04-21","v":15.76},{"d":"2017-04-24","v":15.85},{"d":"2017-04-27","v":15.80},{"d":"2017-04-30","v":15.90},{"d":"2017-05-03","v":15.78},{"d":"2017-05-06","v":15.88},{"d":"2017-05-09","v":15.65},{"d":"2017-05-11","v":15.95},{"d":"2017-05-13","v":16.15},{"d":"2017-05-15","v":15.75},{"d":"2017-05-17","v":16.35},{"d":"2017-05-19","v":16.55},{"d":"2017-05-21","v":16.62},{"d":"2017-05-23","v":16.05},{"d":"2017-05-25","v":16.64},{"d":"2017-05-27","v":16.60},{"d":"2017-05-29","v":16.40},{"d":"2017-05-31","v":16.64},{"d":"2017-06-02","v":16.58},{"d":"2017-06-04","v":16.25},{"d":"2017-06-06","v":16.62},{"d":"2017-06-08","v":16.64},{"d":"2017-06-10","v":15.95},{"d":"2017-06-12","v":16.60},{"d":"2017-06-15","v":16.64},{"d":"2017-06-18","v":16.30},{"d":"2017-06-21","v":16.62},{"d":"2017-06-24","v":16.15},{"d":"2017-06-27","v":16.60},{"d":"2017-06-30","v":15.90},{"d":"2017-07-03","v":16.20},{"d":"2017-07-06","v":16.35},{"d":"2017-07-09","v":16.05},{"d":"2017-07-12","v":15.75},{"d":"2017-07-15","v":16.25},{"d":"2017-07-18","v":16.10},{"d":"2017-07-21","v":15.90},{"d":"2017-07-24","v":16.30},{"d":"2017-07-27","v":16.62},{"d":"2017-07-30","v":16.64},{"d":"2017-08-02","v":16.60},{"d":"2017-08-05","v":16.64},{"d":"2017-08-08","v":16.62},{"d":"2017-08-11","v":16.58},{"d":"2017-08-14","v":16.40},{"d":"2017-08-17","v":16.25},{"d":"2017-08-20","v":16.10},{"d":"2017-08-23","v":16.20},{"d":"2017-08-26","v":15.95},{"d":"2017-08-29","v":15.80},{"d":"2017-09-01","v":15.55},{"d":"2017-09-03","v":15.45},{"d":"2017-09-05","v":15.40},{"d":"2017-09-07","v":15.70},{"d":"2017-09-09","v":16.35},{"d":"2017-09-11","v":16.60},{"d":"2017-09-13","v":16.64},{"d":"2017-09-16","v":16.62},{"d":"2017-09-19","v":16.60},{"d":"2017-09-22","v":16.50},{"d":"2017-09-25","v":16.30},{"d":"2017-09-28","v":16.20},{"d":"2017-10-01","v":16.05},{"d":"2017-10-04","v":15.95},{"d":"2017-10-07","v":16.19},{"d":"2017-10-10","v":15.85},{"d":"2017-10-13","v":15.78},{"d":"2017-10-16","v":15.70},{"d":"2017-10-19","v":15.62},{"d":"2017-10-22","v":15.75},{"d":"2017-10-25","v":15.68},{"d":"2017-10-28","v":15.80},{"d":"2017-10-31","v":15.58},{"d":"2017-11-03","v":15.72},{"d":"2017-11-06","v":15.65},{"d":"2017-11-09","v":15.55},{"d":"2017-11-12","v":15.70},{"d":"2017-11-15","v":15.78},{"d":"2017-11-18","v":15.62},{"d":"2017-11-21","v":15.40},{"d":"2017-11-24","v":15.68},{"d":"2017-11-27","v":15.74},{"d":"2017-11-30","v":15.60},{"d":"2017-12-03","v":15.66},{"d":"2017-12-06","v":15.72},{"d":"2017-12-09","v":15.58},{"d":"2017-12-12","v":15.36},{"d":"2017-12-15","v":15.64},{"d":"2017-12-18","v":15.70},{"d":"2017-12-21","v":15.78},{"d":"2017-12-24","v":15.62},{"d":"2017-12-27","v":15.68},{"d":"2017-12-30","v":15.75},
      {"d":"2018-01-02","v":15.62},{"d":"2018-01-05","v":15.70},{"d":"2018-01-08","v":15.58},{"d":"2018-01-11","v":15.45},{"d":"2018-01-14","v":15.66},{"d":"2018-01-17","v":15.74},{"d":"2018-01-20","v":15.60},{"d":"2018-01-23","v":15.68},{"d":"2018-01-26","v":15.55},{"d":"2018-01-29","v":15.72},{"d":"2018-02-01","v":15.64},{"d":"2018-02-04","v":15.78},{"d":"2018-02-07","v":15.60},{"d":"2018-02-10","v":15.50},{"d":"2018-02-13","v":15.38},{"d":"2018-02-16","v":15.62},{"d":"2018-02-19","v":15.70},{"d":"2018-02-22","v":15.58},{"d":"2018-02-25","v":15.66},{"d":"2018-02-28","v":15.74},{"d":"2018-03-03","v":15.62},{"d":"2018-03-06","v":15.55},{"d":"2018-03-09","v":15.48},{"d":"2018-03-12","v":15.64},{"d":"2018-03-15","v":15.58},{"d":"2018-03-18","v":15.66},{"d":"2018-03-21","v":15.52},{"d":"2018-03-24","v":15.60},{"d":"2018-03-27","v":15.70},{"d":"2018-03-30","v":15.56},{"d":"2018-04-02","v":15.64},{"d":"2018-04-05","v":15.58},{"d":"2018-04-08","v":15.72},{"d":"2018-04-11","v":15.62},{"d":"2018-04-14","v":15.55},{"d":"2018-04-17","v":15.66},{"d":"2018-04-20","v":15.74},{"d":"2018-04-23","v":15.60},{"d":"2018-04-26","v":15.68},{"d":"2018-04-29","v":15.80},{"d":"2018-05-02","v":15.65},{"d":"2018-05-05","v":15.72},{"d":"2018-05-08","v":15.58},{"d":"2018-05-11","v":15.68},{"d":"2018-05-14","v":16.05},{"d":"2018-05-16","v":16.35},{"d":"2018-05-18","v":16.45},{"d":"2018-05-20","v":16.25},{"d":"2018-05-22","v":16.50},{"d":"2018-05-24","v":16.40},{"d":"2018-05-26","v":16.15},{"d":"2018-05-28","v":16.52},{"d":"2018-05-30","v":16.30},{"d":"2018-06-01","v":16.45},{"d":"2018-06-04","v":16.55},{"d":"2018-06-07","v":16.20},{"d":"2018-06-10","v":16.48},{"d":"2018-06-13","v":16.38},{"d":"2018-06-16","v":16.55},{"d":"2018-06-19","v":16.08},{"d":"2018-06-22","v":15.67},{"d":"2018-06-25","v":16.45},{"d":"2018-06-28","v":16.55},{"d":"2018-07-01","v":16.30},{"d":"2018-07-04","v":16.50},{"d":"2018-07-07","v":16.58},{"d":"2018-07-10","v":16.40},{"d":"2018-07-13","v":16.55},{"d":"2018-07-16","v":16.58},{"d":"2018-07-19","v":16.45},{"d":"2018-07-22","v":16.60},{"d":"2018-07-25","v":16.55},{"d":"2018-07-28","v":16.62},{"d":"2018-07-31","v":16.58},{"d":"2018-08-03","v":16.45},{"d":"2018-08-06","v":16.62},{"d":"2018-08-09","v":16.60},{"d":"2018-08-12","v":16.36},{"d":"2018-08-15","v":16.62},{"d":"2018-08-18","v":16.64},{"d":"2018-08-21","v":16.60},{"d":"2018-08-24","v":16.65},{"d":"2018-08-27","v":16.62},{"d":"2018-08-30","v":16.66},{"d":"2018-09-02","v":16.64},{"d":"2018-09-05","v":16.62},{"d":"2018-09-08","v":16.40},{"d":"2018-09-11","v":16.66},{"d":"2018-09-14","v":16.64},{"d":"2018-09-17","v":16.66},{"d":"2018-09-20","v":16.33},{"d":"2018-09-23","v":16.64},{"d":"2018-09-26","v":16.66}
    ],
    "qaanvoer": [
      {"d":"2016-04-25","v":0},{"d":"2016-04-28","v":70},{"d":"2016-05-02","v":10},{"d":"2016-05-06","v":0},{"d":"2016-05-10","v":30},{"d":"2016-05-14","v":0},{"d":"2016-05-18","v":20},{"d":"2016-05-22","v":0},{"d":"2016-05-25","v":770},{"d":"2016-05-26","v":740},{"d":"2016-05-28","v":650},{"d":"2016-05-29","v":500},{"d":"2016-05-30","v":470},{"d":"2016-05-31","v":420},{"d":"2016-06-01","v":250},{"d":"2016-06-02","v":100},{"d":"2016-06-04","v":0},{"d":"2016-06-06","v":506},{"d":"2016-06-08","v":354},{"d":"2016-06-10","v":165},{"d":"2016-06-12","v":127},{"d":"2016-06-15","v":0},{"d":"2016-06-18","v":20},{"d":"2016-06-22","v":745},{"d":"2016-06-23","v":646},{"d":"2016-06-27","v":0},{"d":"2016-07-01","v":10},{"d":"2016-07-05","v":380},{"d":"2016-07-06","v":290},{"d":"2016-07-08","v":650},{"d":"2016-07-10","v":570},{"d":"2016-07-12","v":550},{"d":"2016-07-14","v":520},{"d":"2016-07-16","v":410},{"d":"2016-07-18","v":290},{"d":"2016-07-20","v":100},{"d":"2016-07-22","v":330},{"d":"2016-07-25","v":0},{"d":"2016-07-28","v":0},{"d":"2016-08-01","v":443},{"d":"2016-08-03","v":380},{"d":"2016-08-05","v":266},{"d":"2016-08-07","v":100},{"d":"2016-08-10","v":0},{"d":"2016-08-13","v":20},{"d":"2016-08-17","v":393},{"d":"2016-08-19","v":330},{"d":"2016-08-21","v":280},{"d":"2016-08-23","v":228},{"d":"2016-08-24","v":481},{"d":"2016-08-26","v":300},{"d":"2016-08-28","v":734},{"d":"2016-08-29","v":696},{"d":"2016-08-30","v":582},{"d":"2016-09-02","v":0},{"d":"2016-09-06","v":50},{"d":"2016-09-11","v":671},{"d":"2016-09-12","v":797},{"d":"2016-09-13","v":924},{"d":"2016-09-14","v":506},{"d":"2016-09-15","v":443},{"d":"2016-09-20","v":300},{"d":"2016-09-23","v":354},{"d":"2016-09-26","v":330},{"d":"2016-09-29","v":290},{"d":"2016-10-02","v":250},{"d":"2016-10-05","v":200},{"d":"2016-10-08","v":139},{"d":"2016-10-11","v":80},{"d":"2016-10-14","v":20},{"d":"2016-10-17","v":0},{"d":"2016-10-20","v":0},
      {"d":"2017-05-02","v":0},{"d":"2017-05-06","v":0},{"d":"2017-05-10","v":354},{"d":"2017-05-12","v":0},{"d":"2017-05-14","v":899},{"d":"2017-05-15","v":797},{"d":"2017-05-16","v":760},{"d":"2017-05-18","v":709},{"d":"2017-05-19","v":650},{"d":"2017-05-20","v":600},{"d":"2017-05-22","v":544},{"d":"2017-05-23","v":519},{"d":"2017-05-25","v":480},{"d":"2017-05-27","v":443},{"d":"2017-05-28","v":270},{"d":"2017-05-29","v":519},{"d":"2017-05-31","v":480},{"d":"2017-06-01","v":100},{"d":"2017-06-02","v":1265},{"d":"2017-06-03","v":443},{"d":"2017-06-04","v":0},{"d":"2017-06-05","v":400},{"d":"2017-06-07","v":354},{"d":"2017-06-08","v":316},{"d":"2017-06-10","v":354},{"d":"2017-06-11","v":60},{"d":"2017-06-13","v":320},{"d":"2017-06-16","v":290},{"d":"2017-06-19","v":250},{"d":"2017-06-20","v":0},{"d":"2017-06-22","v":230},{"d":"2017-06-25","v":200},{"d":"2017-06-28","v":170},{"d":"2017-07-01","v":139},{"d":"2017-07-02","v":0},{"d":"2017-07-04","v":160},{"d":"2017-07-07","v":120},{"d":"2017-07-10","v":100},{"d":"2017-07-13","v":90},{"d":"2017-07-16","v":110},{"d":"2017-07-18","v":0},{"d":"2017-07-20","v":80},{"d":"2017-07-23","v":100},{"d":"2017-07-26","v":85},{"d":"2017-07-29","v":130},{"d":"2017-08-01","v":180},{"d":"2017-08-04","v":200},{"d":"2017-08-07","v":210},{"d":"2017-08-10","v":200},{"d":"2017-08-13","v":190},{"d":"2017-08-16","v":205},{"d":"2017-08-19","v":200},{"d":"2017-08-22","v":215},{"d":"2017-08-25","v":195},{"d":"2017-08-28","v":200},{"d":"2017-08-31","v":210},{"d":"2017-09-03","v":190},{"d":"2017-09-06","v":200},{"d":"2017-09-10","v":260},{"d":"2017-09-13","v":291},{"d":"2017-09-16","v":250},{"d":"2017-09-19","v":220},{"d":"2017-09-22","v":190},{"d":"2017-09-25","v":160},{"d":"2017-09-28","v":130},{"d":"2017-10-01","v":100},{"d":"2017-10-04","v":80},{"d":"2017-10-07","v":60},{"d":"2017-10-10","v":40},{"d":"2017-10-13","v":20},{"d":"2017-10-16","v":0},
      {"d":"2018-01-01","v":0,"r":1},{"d":"2018-01-05","v":0,"r":1},{"d":"2018-01-09","v":0,"r":1},{"d":"2018-01-13","v":0,"r":1},{"d":"2018-01-17","v":0,"r":1},{"d":"2018-01-21","v":0,"r":1},{"d":"2018-01-25","v":0,"r":1},{"d":"2018-01-29","v":0,"r":1},{"d":"2018-02-02","v":0,"r":1},{"d":"2018-02-06","v":0,"r":1},{"d":"2018-02-10","v":0,"r":1},{"d":"2018-02-14","v":0,"r":1},{"d":"2018-02-18","v":0,"r":1},{"d":"2018-02-22","v":0,"r":1},{"d":"2018-02-26","v":0,"r":1},{"d":"2018-03-02","v":0,"r":1},{"d":"2018-03-06","v":0,"r":1},{"d":"2018-03-10","v":0,"r":1},{"d":"2018-03-14","v":0,"r":1},{"d":"2018-03-18","v":0,"r":1},{"d":"2018-03-22","v":0,"r":1},{"d":"2018-03-26","v":0,"r":1},{"d":"2018-03-30","v":0,"r":1},{"d":"2018-04-03","v":0,"r":1},{"d":"2018-04-07","v":0,"r":1},{"d":"2018-04-11","v":0,"r":1},{"d":"2018-04-15","v":0,"r":1},{"d":"2018-04-19","v":0,"r":1},{"d":"2018-04-23","v":0,"r":1},{"d":"2018-04-27","v":0,"r":1},{"d":"2018-05-01","v":0,"r":1},{"d":"2018-05-05","v":0,"r":1},{"d":"2018-05-08","v":0,"r":1},
      {"d":"2018-05-10","v":760},{"d":"2018-05-11","v":709},{"d":"2018-05-12","v":650},{"d":"2018-05-13","v":561},{"d":"2018-05-14","v":540},{"d":"2018-05-15","v":480},{"d":"2018-05-16","v":0},{"d":"2018-05-17","v":414},{"d":"2018-05-19","v":380},{"d":"2018-05-20","v":20},{"d":"2018-05-21","v":340},{"d":"2018-05-23","v":300},{"d":"2018-05-25","v":280},{"d":"2018-05-27","v":320},{"d":"2018-05-29","v":260},{"d":"2018-05-31","v":245},{"d":"2018-06-02","v":290},{"d":"2018-06-04","v":230},{"d":"2018-06-06","v":270},{"d":"2018-06-08","v":210},{"d":"2018-06-10","v":250},{"d":"2018-06-12","v":200},{"d":"2018-06-14","v":230},{"d":"2018-06-17","v":190},{"d":"2018-06-19","v":561},{"d":"2018-06-20","v":210},{"d":"2018-06-23","v":180},{"d":"2018-06-26","v":200},{"d":"2018-06-29","v":170},{"d":"2018-07-02","v":190},{"d":"2018-07-05","v":160},{"d":"2018-07-08","v":175},{"d":"2018-07-11","v":150},{"d":"2018-07-14","v":180},{"d":"2018-07-17","v":140},{"d":"2018-07-20","v":160},{"d":"2018-07-23","v":130},{"d":"2018-07-26","v":150},{"d":"2018-07-29","v":120},{"d":"2018-08-01","v":140},{"d":"2018-08-04","v":160},{"d":"2018-08-07","v":130},{"d":"2018-08-10","v":150},{"d":"2018-08-13","v":120},{"d":"2018-08-16","v":140},{"d":"2018-08-19","v":110},{"d":"2018-08-22","v":130},{"d":"2018-08-25","v":150},{"d":"2018-08-28","v":120},{"d":"2018-08-31","v":140},{"d":"2018-09-03","v":160},{"d":"2018-09-06","v":130},{"d":"2018-09-09","v":145},{"d":"2018-09-12","v":120},{"d":"2018-09-15","v":135},{"d":"2018-09-18","v":150},{"d":"2018-09-21","v":170},{"d":"2018-09-24","v":140},{"d":"2018-09-27","v":160},{"d":"2018-09-30","v":185},{"d":"2018-10-03","v":150},{"d":"2018-10-06","v":170},{"d":"2018-10-09","v":130},{"d":"2018-10-12","v":150},{"d":"2018-10-15","v":120},{"d":"2018-10-18","v":140},{"d":"2018-10-21","v":110},{"d":"2018-10-24","v":130},{"d":"2018-10-27","v":95},{"d":"2018-10-30","v":110},{"d":"2018-11-02","v":80},{"d":"2018-11-05","v":95},{"d":"2018-11-08","v":70},{"d":"2018-11-11","v":80},{"d":"2018-11-14","v":60},{"d":"2018-11-17","v":70},{"d":"2018-11-20","v":50},{"d":"2018-11-23","v":55},{"d":"2018-11-26","v":40},{"d":"2018-11-29","v":45},{"d":"2018-12-02","v":30},{"d":"2018-12-05","v":35},{"d":"2018-12-08","v":20},{"d":"2018-12-11","v":25},{"d":"2018-12-14","v":10},{"d":"2018-12-17","v":15},{"d":"2018-12-20","v":5},{"d":"2018-12-23","v":0},{"d":"2018-12-27","v":0},
      {"d":"2019-01-01","v":0},{"d":"2019-01-04","v":40},{"d":"2019-01-07","v":20},{"d":"2019-01-10","v":60},{"d":"2019-01-13","v":30},{"d":"2019-01-16","v":10},{"d":"2019-01-19","v":50},{"d":"2019-01-22","v":0},{"d":"2019-01-25","v":30},{"d":"2019-01-28","v":15},{"d":"2019-02-01","v":40},{"d":"2019-02-04","v":10},{"d":"2019-02-08","v":0},{"d":"2019-02-12","v":20},{"d":"2019-02-16","v":0},{"d":"2019-02-20","v":0},{"d":"2019-02-24","v":0},{"d":"2019-02-28","v":0},{"d":"2019-03-04","v":0},{"d":"2019-03-08","v":0},{"d":"2019-03-12","v":0},{"d":"2019-03-16","v":0},{"d":"2019-03-20","v":0},{"d":"2019-03-24","v":0},{"d":"2019-03-28","v":0},{"d":"2019-04-01","v":0},{"d":"2019-04-05","v":0},{"d":"2019-04-09","v":0},{"d":"2019-04-13","v":0},{"d":"2019-04-17","v":0},{"d":"2019-04-20","v":170},{"d":"2019-04-22","v":140},{"d":"2019-04-24","v":120},{"d":"2019-04-26","v":160},{"d":"2019-04-28","v":90},{"d":"2019-04-30","v":130},{"d":"2019-05-02","v":100},{"d":"2019-05-04","v":150},{"d":"2019-05-06","v":70},{"d":"2019-05-08","v":110},{"d":"2019-05-10","v":80},{"d":"2019-05-12","v":40},{"d":"2019-05-14","v":120},{"d":"2019-05-16","v":60},{"d":"2019-05-18","v":90},{"d":"2019-05-20","v":30},{"d":"2019-05-22","v":100},{"d":"2019-05-24","v":50},{"d":"2019-05-26","v":80},{"d":"2019-05-28","v":20},{"d":"2019-05-30","v":70},{"d":"2019-06-01","v":110},{"d":"2019-06-03","v":40},{"d":"2019-06-05","v":90},{"d":"2019-06-07","v":60},{"d":"2019-06-09","v":20},{"d":"2019-06-11","v":80},{"d":"2019-06-13","v":40},{"d":"2019-06-15","v":100},{"d":"2019-06-17","v":30},{"d":"2019-06-19","v":70},{"d":"2019-06-21","v":10},{"d":"2019-06-23","v":50},{"d":"2019-06-25","v":20},{"d":"2019-06-27","v":60},{"d":"2019-06-29","v":10},{"d":"2019-08-18","v":0},
      {"d":"2019-07-01","v":0,"r":1},{"d":"2019-07-05","v":0,"r":1},{"d":"2019-07-09","v":0,"r":1},{"d":"2019-07-13","v":0,"r":1},{"d":"2019-07-17","v":0,"r":1},{"d":"2019-07-21","v":0,"r":1},{"d":"2019-07-25","v":0,"r":1},{"d":"2019-07-29","v":0,"r":1},{"d":"2019-08-02","v":0,"r":1},{"d":"2019-08-06","v":0,"r":1},{"d":"2019-08-10","v":0,"r":1},{"d":"2019-08-14","v":0,"r":1},{"d":"2019-08-22","v":0,"r":1},{"d":"2019-08-26","v":0,"r":1},{"d":"2019-08-30","v":0,"r":1},{"d":"2019-09-03","v":0,"r":1},{"d":"2019-09-07","v":0,"r":1},{"d":"2019-09-11","v":0,"r":1},{"d":"2019-09-15","v":0,"r":1},{"d":"2019-09-19","v":0,"r":1},{"d":"2019-09-23","v":0,"r":1},{"d":"2019-09-27","v":0,"r":1},{"d":"2019-10-01","v":0,"r":1},{"d":"2019-10-05","v":0,"r":1},{"d":"2019-10-09","v":0,"r":1},{"d":"2019-10-13","v":0,"r":1},{"d":"2019-10-17","v":0,"r":1},{"d":"2019-10-21","v":0,"r":1},{"d":"2019-10-25","v":0,"r":1},{"d":"2019-10-29","v":0,"r":1},{"d":"2019-11-02","v":0,"r":1},{"d":"2019-11-06","v":0,"r":1},{"d":"2019-11-10","v":0,"r":1},{"d":"2019-11-14","v":0,"r":1},{"d":"2019-11-18","v":0,"r":1},{"d":"2019-11-22","v":0,"r":1},{"d":"2019-11-26","v":0,"r":1},{"d":"2019-11-30","v":0,"r":1},{"d":"2019-12-04","v":0,"r":1},{"d":"2019-12-08","v":0,"r":1},{"d":"2019-12-12","v":0,"r":1},{"d":"2019-12-16","v":0,"r":1},{"d":"2019-12-20","v":0,"r":1},{"d":"2019-12-24","v":0,"r":1},{"d":"2019-12-28","v":0,"r":1},{"d":"2020-01-01","v":0,"r":1},{"d":"2020-01-05","v":0,"r":1},{"d":"2020-01-09","v":0,"r":1},{"d":"2020-01-13","v":0,"r":1},{"d":"2020-01-17","v":0,"r":1},{"d":"2020-01-21","v":0,"r":1},{"d":"2020-01-25","v":0,"r":1},{"d":"2020-01-29","v":0,"r":1},{"d":"2020-02-02","v":0,"r":1},{"d":"2020-02-06","v":0,"r":1},{"d":"2020-02-10","v":0,"r":1},{"d":"2020-02-14","v":0,"r":1},{"d":"2020-02-18","v":0,"r":1},{"d":"2020-02-22","v":0,"r":1},{"d":"2020-02-26","v":0,"r":1},{"d":"2020-03-01","v":0,"r":1},{"d":"2020-03-05","v":0,"r":1},{"d":"2020-03-09","v":0,"r":1},{"d":"2020-03-13","v":0,"r":1},{"d":"2020-03-17","v":0,"r":1},{"d":"2020-03-21","v":0,"r":1},{"d":"2020-03-25","v":0,"r":1},{"d":"2020-03-29","v":0,"r":1},{"d":"2020-04-02","v":0,"r":1},{"d":"2020-04-06","v":0,"r":1},{"d":"2020-04-10","v":0,"r":1},{"d":"2020-04-14","v":0,"r":1},{"d":"2020-04-18","v":0,"r":1},
      {"d":"2020-04-20","v":1040},{"d":"2020-04-21","v":886},{"d":"2020-04-22","v":823},{"d":"2020-04-23","v":0},{"d":"2020-04-24","v":671},{"d":"2020-04-26","v":544},{"d":"2020-04-27","v":780},{"d":"2020-04-28","v":734},{"d":"2020-04-30","v":633},{"d":"2020-05-01","v":150},{"d":"2020-05-02","v":481},{"d":"2020-05-03","v":0},{"d":"2020-05-04","v":608},{"d":"2020-05-06","v":700},{"d":"2020-05-07","v":418},{"d":"2020-05-09","v":560},{"d":"2020-05-11","v":544},{"d":"2020-05-12","v":640},{"d":"2020-05-14","v":354},{"d":"2020-05-15","v":520},{"d":"2020-05-17","v":481},{"d":"2020-05-19","v":600},{"d":"2020-05-20","v":560},{"d":"2020-05-22","v":291},{"d":"2020-05-24","v":500},{"d":"2020-05-25","v":418},{"d":"2020-05-27","v":540},{"d":"2020-05-29","v":450},{"d":"2020-05-30","v":380},{"d":"2020-06-01","v":520},{"d":"2020-06-03","v":480},{"d":"2020-06-04","v":300},{"d":"2020-06-06","v":460},{"d":"2020-06-08","v":560},{"d":"2020-06-10","v":400},{"d":"2020-06-12","v":500},{"d":"2020-06-14","v":350},{"d":"2020-06-16","v":440},{"d":"2020-06-18","v":228},{"d":"2020-06-20","v":480},{"d":"2020-06-22","v":380},{"d":"2020-06-24","v":354},{"d":"2020-06-26","v":420},{"d":"2020-06-28","v":300},{"d":"2020-06-30","v":520},{"d":"2020-07-02","v":260},{"d":"2020-07-04","v":400},{"d":"2020-07-06","v":101},{"d":"2020-07-08","v":0},{"d":"2020-07-10","v":0}
    ],
    "qafvoer": [
      {"d":"2020-03-10","v":10.0},{"d":"2020-03-12","v":10.0},{"d":"2020-03-14","v":10.0}
    ]
  },
  "vconcat": [
    {
      "width": 974, "height": 102,
      "data": {"name": "bodem"},
      "encoding": {
        "x": {"field": "d", "type": "temporal", "scale": {"type": "utc", "nice": false, "domain": [{"year": 2016, "month": 1, "date": 1, "utc": true}, {"year": 2021, "month": 1, "date": 1, "utc": true}]}, "axis": {"values": [{"year": 2017, "month": 1, "date": 1, "utc": true}, {"year": 2018, "month": 1, "date": 1, "utc": true}, {"year": 2019, "month": 1, "date": 1, "utc": true}, {"year": 2020, "month": 1, "date": 1, "utc": true}], "grid": true, "labels": false, "ticks": false}},
        "y": {"field": "a", "type": "quantitative", "scale": {"domain": [14.62, 16.79], "nice": false, "zero": false}, "axis": {"values": [15, 16], "format": "d"}}
      },
      "layer": [
        {"mark": {"type": "point", "filled": true, "size": 24, "opacity": 1}, "encoding": {"color": {"datum": "ruwe data", "scale": {"domain": ["ruwe data", "Hbodem naast drain"], "range": ["#fa8072", "#000000"]}, "legend": {"title": null}}}},
        {"mark": {"type": "point", "filled": true, "size": 13, "opacity": 1}, "encoding": {"color": {"datum": "Hbodem naast drain"}}}
      ]
    },
    {
      "width": 974, "height": 102,
      "data": {"name": "bodem"},
      "encoding": {
        "x": {"field": "d", "type": "temporal", "scale": {"type": "utc", "nice": false, "domain": [{"year": 2016, "month": 1, "date": 1, "utc": true}, {"year": 2021, "month": 1, "date": 1, "utc": true}]}, "axis": {"values": [{"year": 2017, "month": 1, "date": 1, "utc": true}, {"year": 2018, "month": 1, "date": 1, "utc": true}, {"year": 2019, "month": 1, "date": 1, "utc": true}, {"year": 2020, "month": 1, "date": 1, "utc": true}], "grid": true, "labels": false, "ticks": false}},
        "y": {"field": "b", "type": "quantitative", "scale": {"domain": [14.48, 16.70], "nice": false, "zero": false}, "axis": {"values": [15, 16], "format": "d"}}
      },
      "layer": [
        {"mark": {"type": "point", "filled": true, "size": 24, "opacity": 1}, "encoding": {"color": {"datum": "ruwe data", "scale": {"domain": ["ruwe data", "Hbodem tussen drain"], "range": ["#fa8072", "#000000"]}, "legend": {"title": null}}}},
        {"mark": {"type": "point", "filled": true, "size": 13, "opacity": 1}, "encoding": {"color": {"datum": "Hbodem tussen drain"}}}
      ]
    },
    {
      "width": 974, "height": 102,
      "data": {"name": "aanvoer"},
      "encoding": {
        "x": {"field": "d", "type": "temporal", "scale": {"type": "utc", "nice": false, "domain": [{"year": 2016, "month": 1, "date": 1, "utc": true}, {"year": 2021, "month": 1, "date": 1, "utc": true}]}, "axis": {"values": [{"year": 2017, "month": 1, "date": 1, "utc": true}, {"year": 2018, "month": 1, "date": 1, "utc": true}, {"year": 2019, "month": 1, "date": 1, "utc": true}, {"year": 2020, "month": 1, "date": 1, "utc": true}], "grid": true, "labels": false, "ticks": false}},
        "y": {"field": "v", "type": "quantitative", "scale": {"domain": [15.12, 16.88], "nice": false, "zero": false}, "axis": {"values": [15.5, 16.0, 16.5], "format": ".1f"}}
      },
      "layer": [
        {"mark": {"type": "point", "filled": true, "size": 24, "opacity": 1}, "encoding": {"color": {"datum": "ruwe data", "scale": {"domain": ["ruwe data", "Hput aanvoer"], "range": ["#fa8072", "#000000"]}, "legend": {"title": null}}}},
        {"mark": {"type": "point", "filled": true, "size": 13, "opacity": 1}, "encoding": {"color": {"datum": "Hput aanvoer"}}}
      ]
    },
    {
      "width": 974, "height": 102,
      "data": {"name": "afvoer"},
      "encoding": {
        "x": {"field": "d", "type": "temporal", "scale": {"type": "utc", "nice": false, "domain": [{"year": 2016, "month": 1, "date": 1, "utc": true}, {"year": 2021, "month": 1, "date": 1, "utc": true}]}, "axis": {"values": [{"year": 2017, "month": 1, "date": 1, "utc": true}, {"year": 2018, "month": 1, "date": 1, "utc": true}, {"year": 2019, "month": 1, "date": 1, "utc": true}, {"year": 2020, "month": 1, "date": 1, "utc": true}], "grid": true, "labels": false, "ticks": false}},
        "y": {"field": "v", "type": "quantitative", "scale": {"domain": [15.10, 16.86], "nice": false, "zero": false}, "axis": {"values": [15.5, 16.0, 16.5], "format": ".1f"}}
      },
      "layer": [
        {"mark": {"type": "point", "filled": true, "size": 24, "opacity": 1}, "encoding": {"color": {"datum": "ruwe data", "scale": {"domain": ["ruwe data", "Hput afvoer"], "range": ["#fa8072", "#000000"]}, "legend": {"title": null}}}},
        {"mark": {"type": "point", "filled": true, "size": 13, "opacity": 1}, "encoding": {"color": {"datum": "Hput afvoer"}}}
      ]
    },
    {
      "width": 974, "height": 102,
      "data": {"name": "qaanvoer"},
      "encoding": {
        "x": {"field": "d", "type": "temporal", "scale": {"type": "utc", "nice": false, "domain": [{"year": 2016, "month": 1, "date": 1, "utc": true}, {"year": 2021, "month": 1, "date": 1, "utc": true}]}, "axis": {"values": [{"year": 2017, "month": 1, "date": 1, "utc": true}, {"year": 2018, "month": 1, "date": 1, "utc": true}, {"year": 2019, "month": 1, "date": 1, "utc": true}, {"year": 2020, "month": 1, "date": 1, "utc": true}], "grid": true, "labels": false, "ticks": false}},
        "y": {"field": "v", "type": "quantitative", "scale": {"domain": [0, 1278], "nice": false, "zero": false}, "axis": {"values": [0, 500, 1000], "format": "d"}}
      },
      "layer": [
        {"mark": {"type": "point", "filled": true, "size": 24, "opacity": 1, "clip": true}, "encoding": {"color": {"datum": "ruwe data", "scale": {"domain": ["ruwe data", "Qaanvoer m3/d"], "range": ["#fa8072", "#000000"]}, "legend": {"title": null}}}},
        {"transform": [{"filter": "datum.r != 1"}], "mark": {"type": "point", "filled": true, "size": 13, "opacity": 1, "clip": true}, "encoding": {"color": {"datum": "Qaanvoer m3/d"}}}
      ]
    },
    {
      "width": 974, "height": 102,
      "data": {"name": "qafvoer"},
      "encoding": {
        "x": {"field": "d", "type": "temporal", "scale": {"type": "utc", "nice": false, "domain": [{"year": 2016, "month": 1, "date": 1, "utc": true}, {"year": 2021, "month": 1, "date": 1, "utc": true}]}, "axis": {"values": [{"year": 2016, "month": 1, "date": 1, "utc": true}, {"year": 2017, "month": 1, "date": 1, "utc": true}, {"year": 2018, "month": 1, "date": 1, "utc": true}, {"year": 2019, "month": 1, "date": 1, "utc": true}, {"year": 2020, "month": 1, "date": 1, "utc": true}, {"year": 2021, "month": 1, "date": 1, "utc": true}], "grid": true, "gridOpacity": {"condition": {"test": "utcyear(datum.value) == 2016 || utcyear(datum.value) == 2021", "value": 0}, "value": 1}, "labels": true, "ticks": true, "tickSize": 4, "labelPadding": 4, "labelExpr": "'jan ' + utcFormat(datum.value, '%Y')"}},
        "y": {"field": "v", "type": "quantitative", "scale": {"domain": [9.8, 10.2], "nice": false, "zero": false}, "axis": {"values": [9.8, 10.0, 10.2], "format": ".1f"}}
      },
      "layer": [
        {"mark": {"type": "point", "filled": true, "size": 24, "opacity": 1}, "encoding": {"color": {"datum": "ruwe data", "scale": {"domain": ["ruwe data", "Qafvoer m3/d"], "range": ["#fa8072", "#000000"]}, "legend": {"title": null}}}},
        {"mark": {"type": "point", "filled": true, "size": 13, "opacity": 1}, "encoding": {"color": {"datum": "Qafvoer m3/d"}}}
      ]
    }
  ],
  "resolve": {"scale": {"color": "independent", "y": "independent"}, "legend": {"color": "independent"}}
}
